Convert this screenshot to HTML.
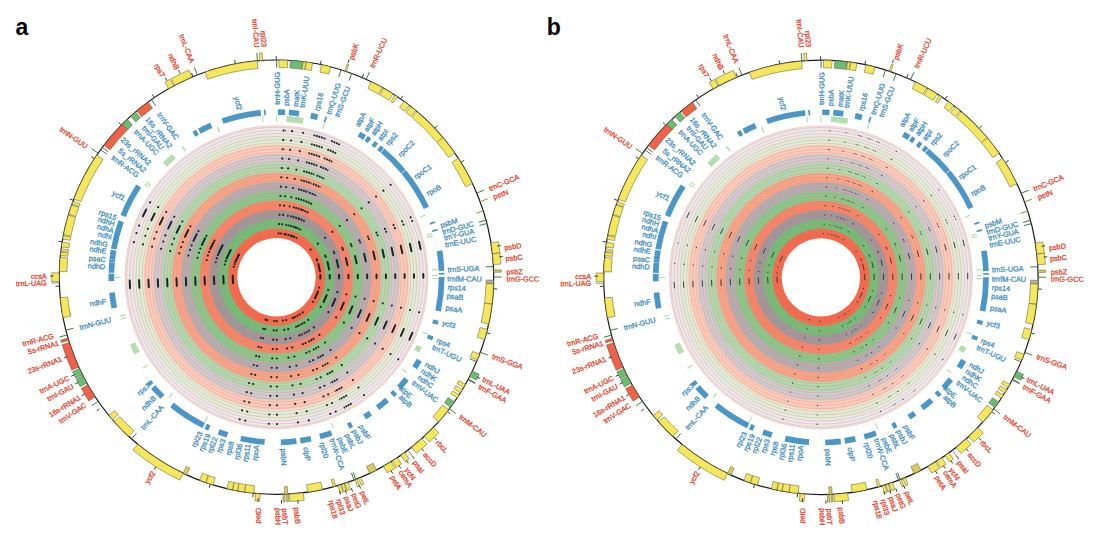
<!DOCTYPE html>
<html><head><meta charset="utf-8"><style>
html,body{margin:0;padding:0;background:#fff;}
body{width:1116px;height:539px;overflow:hidden;}
svg{display:block;}
</style></head><body>
<svg width="1116" height="539" viewBox="0 0 1116 539">
<defs><g id="p">
<circle cx="276.5" cy="277.2" r="151.52" fill="#e9eaee"/>
<circle cx="276.5" cy="277.2" r="142.16" fill="#ddefd9"/>
<circle cx="276.5" cy="277.2" r="132.8" fill="#f9cdbd"/>
<circle cx="276.5" cy="277.2" r="123.44" fill="#cdccd1"/>
<circle cx="276.5" cy="277.2" r="114.08" fill="#acdbb0"/>
<circle cx="276.5" cy="277.2" r="104.72" fill="#f5a68a"/>
<circle cx="276.5" cy="277.2" r="95.36" fill="#b0afb4"/>
<circle cx="276.5" cy="277.2" r="86" fill="#86c98c"/>
<circle cx="276.5" cy="277.2" r="76.64" fill="#f3866a"/>
<circle cx="276.5" cy="277.2" r="67.28" fill="#9a989c"/>
<circle cx="276.5" cy="277.2" r="57.92" fill="#6dbf78"/>
<circle cx="276.5" cy="277.2" r="48.56" fill="#f26a4e"/>
<circle cx="276.5" cy="277.2" r="39.2" fill="#fff"/>
<circle cx="276.5" cy="277.2" r="47" fill="none" stroke="#f07a68" stroke-width="0.6" opacity="0.55"/>
<circle cx="276.5" cy="277.2" r="50.12" fill="none" stroke="#f07a68" stroke-width="0.6" opacity="0.55"/>
<circle cx="276.5" cy="277.2" r="53.24" fill="none" stroke="#f07a68" stroke-width="0.6" opacity="0.55"/>
<circle cx="276.5" cy="277.2" r="56.36" fill="none" stroke="#f07a68" stroke-width="0.6" opacity="0.55"/>
<circle cx="276.5" cy="277.2" r="59.48" fill="none" stroke="#f07a68" stroke-width="0.6" opacity="0.55"/>
<circle cx="276.5" cy="277.2" r="62.6" fill="none" stroke="#f07a68" stroke-width="0.6" opacity="0.55"/>
<circle cx="276.5" cy="277.2" r="65.72" fill="none" stroke="#f07a68" stroke-width="0.6" opacity="0.55"/>
<circle cx="276.5" cy="277.2" r="68.84" fill="none" stroke="#f07a68" stroke-width="0.6" opacity="0.55"/>
<circle cx="276.5" cy="277.2" r="71.96" fill="none" stroke="#f07a68" stroke-width="0.6" opacity="0.55"/>
<circle cx="276.5" cy="277.2" r="75.08" fill="none" stroke="#f07a68" stroke-width="0.6" opacity="0.55"/>
<circle cx="276.5" cy="277.2" r="78.2" fill="none" stroke="#f07a68" stroke-width="0.6" opacity="0.55"/>
<circle cx="276.5" cy="277.2" r="81.32" fill="none" stroke="#f07a68" stroke-width="0.6" opacity="0.55"/>
<circle cx="276.5" cy="277.2" r="84.44" fill="none" stroke="#f07a68" stroke-width="0.6" opacity="0.55"/>
<circle cx="276.5" cy="277.2" r="87.56" fill="none" stroke="#f07a68" stroke-width="0.6" opacity="0.55"/>
<circle cx="276.5" cy="277.2" r="90.68" fill="none" stroke="#f07a68" stroke-width="0.6" opacity="0.55"/>
<circle cx="276.5" cy="277.2" r="93.8" fill="none" stroke="#f07a68" stroke-width="0.6" opacity="0.55"/>
<circle cx="276.5" cy="277.2" r="96.92" fill="none" stroke="#f07a68" stroke-width="0.6" opacity="0.55"/>
<circle cx="276.5" cy="277.2" r="100.04" fill="none" stroke="#f07a68" stroke-width="0.6" opacity="0.55"/>
<circle cx="276.5" cy="277.2" r="103.16" fill="none" stroke="#f07a68" stroke-width="0.6" opacity="0.55"/>
<circle cx="276.5" cy="277.2" r="106.28" fill="none" stroke="#f07a68" stroke-width="0.6" opacity="0.55"/>
<circle cx="276.5" cy="277.2" r="109.4" fill="none" stroke="#f07a68" stroke-width="0.6" opacity="0.55"/>
<circle cx="276.5" cy="277.2" r="112.52" fill="none" stroke="#f07a68" stroke-width="0.6" opacity="0.55"/>
<circle cx="276.5" cy="277.2" r="115.64" fill="none" stroke="#f07a68" stroke-width="0.6" opacity="0.55"/>
<circle cx="276.5" cy="277.2" r="118.76" fill="none" stroke="#f07a68" stroke-width="0.6" opacity="0.55"/>
<circle cx="276.5" cy="277.2" r="121.88" fill="none" stroke="#f07a68" stroke-width="0.6" opacity="0.55"/>
<circle cx="276.5" cy="277.2" r="125" fill="none" stroke="#f07a68" stroke-width="0.6" opacity="0.55"/>
<circle cx="276.5" cy="277.2" r="128.12" fill="none" stroke="#f07a68" stroke-width="0.6" opacity="0.55"/>
<circle cx="276.5" cy="277.2" r="131.24" fill="none" stroke="#f07a68" stroke-width="0.6" opacity="0.55"/>
<circle cx="276.5" cy="277.2" r="134.36" fill="none" stroke="#f07a68" stroke-width="0.6" opacity="0.55"/>
<circle cx="276.5" cy="277.2" r="137.48" fill="none" stroke="#f07a68" stroke-width="0.6" opacity="0.55"/>
<circle cx="276.5" cy="277.2" r="140.6" fill="none" stroke="#f07a68" stroke-width="0.6" opacity="0.55"/>
<circle cx="276.5" cy="277.2" r="143.72" fill="none" stroke="#f07a68" stroke-width="0.6" opacity="0.55"/>
<circle cx="276.5" cy="277.2" r="146.84" fill="none" stroke="#f07a68" stroke-width="0.6" opacity="0.55"/>
<circle cx="276.5" cy="277.2" r="149.96" fill="none" stroke="#f07a68" stroke-width="0.6" opacity="0.55"/>
<circle cx="276.5" cy="277.2" r="151.52" fill="none" stroke="#f08878" stroke-width="0.6" opacity="0.6"/>
<circle cx="276.5" cy="277.2" r="217.2" fill="none" stroke="#1a1a1a" stroke-width="1.2"/>
<path d="M164.86,82.08A224.8,224.8 0 0 1 170.11,79.17L173.71,85.86A217.2,217.2 0 0 0 168.63,88.68Z" fill="#f4e75c" stroke="#5a5630" stroke-width="0.5"/>
<path d="M171.16,78.61A224.8,224.8 0 0 1 189.06,70.1L192.02,77.1A217.2,217.2 0 0 0 174.72,85.32Z" fill="#f4e75c" stroke="#5a5630" stroke-width="0.5"/>
<path d="M205.08,72.08A217.2,217.2 0 0 1 257.13,60.87L257.81,68.44A209.6,209.6 0 0 0 207.58,79.25Z" fill="#f4e75c" stroke="#5a5630" stroke-width="0.5"/>
<path d="M259.29,53.06A224.8,224.8 0 0 1 262.16,52.86L262.64,60.44A217.2,217.2 0 0 0 259.87,60.64Z" fill="#f4e75c" stroke="#5a5630" stroke-width="0.5"/>
<path d="M279.05,60.01A217.2,217.2 0 0 1 287.71,60.29L287.31,67.88A209.6,209.6 0 0 0 278.96,67.61Z" fill="#f4e75c" stroke="#5a5630" stroke-width="0.5"/>
<path d="M290.43,60.45A217.2,217.2 0 0 1 302.91,61.61L301.98,69.15A209.6,209.6 0 0 0 289.94,68.03Z" fill="#6cbd74" stroke="#5a5630" stroke-width="0.5"/>
<path d="M303.11,61.64A217.2,217.2 0 0 1 305.82,61.99L304.79,69.52A209.6,209.6 0 0 0 302.18,69.18Z" fill="#f4e75c" stroke="#5a5630" stroke-width="0.5"/>
<path d="M306.22,62.04A217.2,217.2 0 0 1 312.55,63.01L311.29,70.51A209.6,209.6 0 0 0 305.18,69.57Z" fill="#f4e75c" stroke="#5a5630" stroke-width="0.5"/>
<path d="M321.49,64.71A217.2,217.2 0 0 1 330.57,66.84L328.68,74.2A209.6,209.6 0 0 0 319.92,72.15Z" fill="#f4e75c" stroke="#5a5630" stroke-width="0.5"/>
<path d="M347.19,63.8A224.8,224.8 0 0 1 348.86,64.37L346.42,71.56A217.2,217.2 0 0 0 344.8,71.02Z" fill="#f4e75c" stroke="#5a5630" stroke-width="0.5"/>
<path d="M371.2,81.73A217.2,217.2 0 0 1 382.38,87.56L378.68,94.19A209.6,209.6 0 0 0 367.88,88.57Z" fill="#f4e75c" stroke="#5a5630" stroke-width="0.5"/>
<path d="M383.52,88.2A217.2,217.2 0 0 1 392.94,93.85L388.87,100.27A209.6,209.6 0 0 0 379.78,94.81Z" fill="#f4e75c" stroke="#5a5630" stroke-width="0.5"/>
<path d="M395.01,95.18A217.2,217.2 0 0 1 397.43,96.78L393.2,103.09A209.6,209.6 0 0 0 390.86,101.55Z" fill="#f4e75c" stroke="#5a5630" stroke-width="0.5"/>
<path d="M404.02,101.38A217.2,217.2 0 0 1 409.38,105.39L404.73,111.4A209.6,209.6 0 0 0 399.56,107.53Z" fill="#f4e75c" stroke="#5a5630" stroke-width="0.5"/>
<path d="M410.74,106.45A217.2,217.2 0 0 1 415.84,110.58L410.96,116.41A209.6,209.6 0 0 0 406.04,112.42Z" fill="#f4e75c" stroke="#5a5630" stroke-width="0.5"/>
<path d="M416.9,111.48A217.2,217.2 0 0 1 442.96,137.67L437.13,142.56A209.6,209.6 0 0 0 411.98,117.27Z" fill="#f4e75c" stroke="#5a5630" stroke-width="0.5"/>
<path d="M442.86,137.56A217.2,217.2 0 0 1 454.76,153.11L448.52,157.45A209.6,209.6 0 0 0 437.04,142.45Z" fill="#f4e75c" stroke="#5a5630" stroke-width="0.5"/>
<path d="M458.17,158.16A217.2,217.2 0 0 1 472.44,183.48L465.58,186.76A209.6,209.6 0 0 0 451.81,162.32Z" fill="#f4e75c" stroke="#5a5630" stroke-width="0.5"/>
<path d="M498.48,241.73A224.8,224.8 0 0 1 499.99,252.94L492.43,253.76A217.2,217.2 0 0 0 490.98,242.93Z" fill="#f4e75c" stroke="#5a5630" stroke-width="0.5"/>
<path d="M499.99,252.98A224.8,224.8 0 0 1 500.92,264.09L493.33,264.53A217.2,217.2 0 0 0 492.44,253.8Z" fill="#f4e75c" stroke="#5a5630" stroke-width="0.5"/>
<path d="M501.18,269.87A224.8,224.8 0 0 1 501.24,272.17L493.65,272.34A217.2,217.2 0 0 0 493.58,270.12Z" fill="#d8cc58" stroke="#5a5630" stroke-width="0.5"/>
<path d="M493.68,280.1A217.2,217.2 0 0 1 493.61,283.61L486.01,283.38A209.6,209.6 0 0 0 486.08,280Z" fill="#a8b8a0" stroke="#5a5630" stroke-width="0.5"/>
<path d="M493.6,283.85A217.2,217.2 0 0 1 492.05,303.95L484.5,303.01A209.6,209.6 0 0 0 486,283.62Z" fill="#f4e75c" stroke="#5a5630" stroke-width="0.5"/>
<path d="M492.01,304.24A217.2,217.2 0 0 1 488.57,324.13L481.15,322.48A209.6,209.6 0 0 0 484.47,303.29Z" fill="#f4e75c" stroke="#5a5630" stroke-width="0.5"/>
<path d="M487.35,329.33A217.2,217.2 0 0 1 484.58,339.49L477.3,337.31A209.6,209.6 0 0 0 479.97,327.5Z" fill="#f4e75c" stroke="#5a5630" stroke-width="0.5"/>
<path d="M479.62,354.12A217.2,217.2 0 0 1 477.36,359.86L470.33,356.97A209.6,209.6 0 0 0 472.52,351.43Z" fill="#f4e75c" stroke="#5a5630" stroke-width="0.5"/>
<path d="M479.22,374.37A224.8,224.8 0 0 1 476.41,380.02L469.65,376.54A217.2,217.2 0 0 0 472.36,371.08Z" fill="#6cbd74" stroke="#5a5630" stroke-width="0.5"/>
<path d="M465.46,384.29A217.2,217.2 0 0 1 463.62,387.48L457.08,383.62A209.6,209.6 0 0 0 458.85,380.55Z" fill="#f4e75c" stroke="#5a5630" stroke-width="0.5"/>
<path d="M462.36,389.58A217.2,217.2 0 0 1 460.34,392.87L453.91,388.82A209.6,209.6 0 0 0 455.86,385.65Z" fill="#f4e75c" stroke="#5a5630" stroke-width="0.5"/>
<path d="M459,394.97A217.2,217.2 0 0 1 457.09,397.88L450.77,393.66A209.6,209.6 0 0 0 452.61,390.85Z" fill="#f4e75c" stroke="#5a5630" stroke-width="0.5"/>
<path d="M454.35,401.88A217.2,217.2 0 0 1 450.44,407.28L444.36,402.73A209.6,209.6 0 0 0 448.13,397.52Z" fill="#6cbd74" stroke="#5a5630" stroke-width="0.5"/>
<path d="M448.6,409.71A217.2,217.2 0 0 1 438.63,421.73L432.96,416.67A209.6,209.6 0 0 0 442.58,405.07Z" fill="#f4e75c" stroke="#5a5630" stroke-width="0.5"/>
<path d="M438.88,432.66A224.8,224.8 0 0 1 429.29,442.09L424.13,436.52A217.2,217.2 0 0 0 433.39,427.4Z" fill="#f4e75c" stroke="#5a5630" stroke-width="0.5"/>
<path d="M426.98,444.2A224.8,224.8 0 0 1 416.35,453.2L411.62,447.25A217.2,217.2 0 0 0 421.89,438.56Z" fill="#f4e75c" stroke="#5a5630" stroke-width="0.5"/>
<path d="M409.09,458.73A224.8,224.8 0 0 1 405.04,461.63L400.69,455.39A217.2,217.2 0 0 0 404.61,452.59Z" fill="#f4e75c" stroke="#5a5630" stroke-width="0.5"/>
<path d="M401.59,463.98A224.8,224.8 0 0 1 396.22,467.47L392.17,461.04A217.2,217.2 0 0 0 397.36,457.67Z" fill="#f4e75c" stroke="#5a5630" stroke-width="0.5"/>
<path d="M395.04,468.21A224.8,224.8 0 0 1 387.18,472.87L383.44,466.25A217.2,217.2 0 0 0 391.03,461.75Z" fill="#f4e75c" stroke="#5a5630" stroke-width="0.5"/>
<path d="M376.51,470A217.2,217.2 0 0 1 369.8,473.34L366.53,466.48A209.6,209.6 0 0 0 373.01,463.26Z" fill="#d8cc58" stroke="#5a5630" stroke-width="0.5"/>
<path d="M363.74,484.38A224.8,224.8 0 0 1 361.28,485.4L358.41,478.36A217.2,217.2 0 0 0 360.79,477.38Z" fill="#f4e75c" stroke="#5a5630" stroke-width="0.5"/>
<path d="M359.59,486.08A224.8,224.8 0 0 1 357.53,486.89L354.79,479.8A217.2,217.2 0 0 0 356.78,479.02Z" fill="#f4e75c" stroke="#5a5630" stroke-width="0.5"/>
<path d="M350.56,489.45A224.8,224.8 0 0 1 347.16,490.61L344.77,483.39A217.2,217.2 0 0 0 348.05,482.28Z" fill="#f4e75c" stroke="#5a5630" stroke-width="0.5"/>
<path d="M346.32,490.88A224.8,224.8 0 0 1 343.64,491.74L341.37,484.49A217.2,217.2 0 0 0 343.96,483.66Z" fill="#f4e75c" stroke="#5a5630" stroke-width="0.5"/>
<path d="M342.83,491.99A224.8,224.8 0 0 1 340.1,492.81L337.95,485.53A217.2,217.2 0 0 0 340.59,484.73Z" fill="#f4e75c" stroke="#5a5630" stroke-width="0.5"/>
<path d="M335.68,486.18A217.2,217.2 0 0 1 333.25,486.85L331.27,479.52A209.6,209.6 0 0 0 333.61,478.87Z" fill="#f4e75c" stroke="#5a5630" stroke-width="0.5"/>
<path d="M322.48,489.48A217.2,217.2 0 0 1 307.67,492.15L306.58,484.63A209.6,209.6 0 0 0 320.87,482.05Z" fill="#f4e75c" stroke="#5a5630" stroke-width="0.5"/>
<path d="M304.18,500.29A224.8,224.8 0 0 1 290.01,501.59L289.56,494.01A217.2,217.2 0 0 0 303.25,492.75Z" fill="#f4e75c" stroke="#5a5630" stroke-width="0.5"/>
<path d="M288.69,501.67A224.8,224.8 0 0 1 286.77,501.77L286.42,494.17A217.2,217.2 0 0 0 288.28,494.08Z" fill="#d8cc58" stroke="#5a5630" stroke-width="0.5"/>
<path d="M285.15,501.83A224.8,224.8 0 0 1 283.19,501.9L282.96,494.3A217.2,217.2 0 0 0 284.85,494.24Z" fill="#d8cc58" stroke="#5a5630" stroke-width="0.5"/>
<path d="M287.73,494.11A217.2,217.2 0 0 1 284.68,494.25L284.4,486.65A209.6,209.6 0 0 0 287.34,486.52Z" fill="#d8cc58" stroke="#5a5630" stroke-width="0.5"/>
<path d="M259.7,501.37A224.8,224.8 0 0 1 254.92,500.96L255.65,493.4A217.2,217.2 0 0 0 260.27,493.79Z" fill="#f4e75c" stroke="#5a5630" stroke-width="0.5"/>
<path d="M253.81,493.21A217.2,217.2 0 0 1 244.62,492.05L245.73,484.53A209.6,209.6 0 0 0 254.6,485.65Z" fill="#f4e75c" stroke="#5a5630" stroke-width="0.5"/>
<path d="M244.47,492.03A217.2,217.2 0 0 1 237.74,490.91L239.1,483.44A209.6,209.6 0 0 0 245.59,484.51Z" fill="#f4e75c" stroke="#5a5630" stroke-width="0.5"/>
<path d="M237.43,490.86A217.2,217.2 0 0 1 232.73,489.94L234.26,482.5A209.6,209.6 0 0 0 238.79,483.38Z" fill="#f4e75c" stroke="#5a5630" stroke-width="0.5"/>
<path d="M232.25,489.85A217.2,217.2 0 0 1 226.93,488.67L228.67,481.27A209.6,209.6 0 0 0 233.8,482.4Z" fill="#f4e75c" stroke="#5a5630" stroke-width="0.5"/>
<path d="M213.03,484.92A217.2,217.2 0 0 1 206.09,482.67L208.55,475.48A209.6,209.6 0 0 0 215.25,477.65Z" fill="#f4e75c" stroke="#5a5630" stroke-width="0.5"/>
<path d="M205.63,482.51A217.2,217.2 0 0 1 199.59,480.33L202.28,473.22A209.6,209.6 0 0 0 208.11,475.33Z" fill="#f4e75c" stroke="#5a5630" stroke-width="0.5"/>
<path d="M186.59,474.92A217.2,217.2 0 0 1 183.03,473.26L186.3,466.4A209.6,209.6 0 0 0 189.74,468Z" fill="#d8cc58" stroke="#5a5630" stroke-width="0.5"/>
<path d="M179.78,480.13A224.8,224.8 0 0 1 132.86,450.12L137.71,444.27A217.2,217.2 0 0 0 183.05,473.27Z" fill="#f4e75c" stroke="#5a5630" stroke-width="0.5"/>
<path d="M128.64,436.3A217.2,217.2 0 0 1 114.29,421.64L119.97,416.59A209.6,209.6 0 0 0 133.82,430.74Z" fill="#f4e75c" stroke="#5a5630" stroke-width="0.5"/>
<path d="M112.57,419.69A217.2,217.2 0 0 1 108.91,415.37L114.78,410.53A209.6,209.6 0 0 0 118.31,414.7Z" fill="#f4e75c" stroke="#5a5630" stroke-width="0.5"/>
<path d="M88.82,400.95A224.8,224.8 0 0 1 81.21,388.54L87.81,384.77A217.2,217.2 0 0 0 95.17,396.76Z" fill="#ef6248" stroke="#5a5630" stroke-width="0.5"/>
<path d="M80.17,386.69A224.8,224.8 0 0 1 76.17,379.2L82.95,375.75A217.2,217.2 0 0 0 86.81,382.99Z" fill="#6cbd74" stroke="#5a5630" stroke-width="0.5"/>
<path d="M75.68,378.22A224.8,224.8 0 0 1 72.53,371.71L79.43,368.51A217.2,217.2 0 0 0 82.47,374.81Z" fill="#6cbd74" stroke="#5a5630" stroke-width="0.5"/>
<path d="M71.81,370.13A224.8,224.8 0 0 1 62.08,344.72L69.33,342.43A217.2,217.2 0 0 0 78.73,366.99Z" fill="#ef6248" stroke="#5a5630" stroke-width="0.5"/>
<path d="M61.4,342.54A224.8,224.8 0 0 1 60.7,340.18L68,338.06A217.2,217.2 0 0 0 68.68,340.33Z" fill="#ef6248" stroke="#5a5630" stroke-width="0.5"/>
<path d="M62.97,316.95A217.2,217.2 0 0 1 61.93,310.92L69.44,309.74A209.6,209.6 0 0 0 70.44,315.56Z" fill="#f4e75c" stroke="#5a5630" stroke-width="0.5"/>
<path d="M63.1,317.63A217.2,217.2 0 0 1 60.27,297.69L67.83,296.97A209.6,209.6 0 0 0 70.56,316.21Z" fill="#f4e75c" stroke="#5a5630" stroke-width="0.5"/>
<path d="M51.74,281.65A224.8,224.8 0 0 1 51.74,272.75L59.34,272.9A217.2,217.2 0 0 0 59.34,281.5Z" fill="#f4e75c" stroke="#5a5630" stroke-width="0.5"/>
<path d="M59.37,271.52A217.2,217.2 0 0 1 60.22,257.26L67.78,257.96A209.6,209.6 0 0 0 66.97,271.71Z" fill="#f4e75c" stroke="#5a5630" stroke-width="0.5"/>
<path d="M60.39,255.46A217.2,217.2 0 0 1 60.75,252.19L68.29,253.06A209.6,209.6 0 0 0 67.95,256.22Z" fill="#f4e75c" stroke="#5a5630" stroke-width="0.5"/>
<path d="M60.86,251.23A217.2,217.2 0 0 1 61.15,248.9L68.69,249.89A209.6,209.6 0 0 0 68.4,252.13Z" fill="#f4e75c" stroke="#5a5630" stroke-width="0.5"/>
<path d="M61.43,246.88A217.2,217.2 0 0 1 62.15,242.11L69.65,243.34A209.6,209.6 0 0 0 68.95,247.94Z" fill="#f4e75c" stroke="#5a5630" stroke-width="0.5"/>
<path d="M62.68,239.04A217.2,217.2 0 0 1 63.34,235.51L70.8,236.97A209.6,209.6 0 0 0 70.16,240.37Z" fill="#f4e75c" stroke="#5a5630" stroke-width="0.5"/>
<path d="M63.51,234.62A217.2,217.2 0 0 1 68.39,215.01L75.68,217.18A209.6,209.6 0 0 0 70.97,236.11Z" fill="#f4e75c" stroke="#5a5630" stroke-width="0.5"/>
<path d="M68.6,214.32A217.2,217.2 0 0 1 71.68,204.92L78.85,207.44A209.6,209.6 0 0 0 75.88,216.52Z" fill="#f4e75c" stroke="#5a5630" stroke-width="0.5"/>
<path d="M71.99,204.05A217.2,217.2 0 0 1 72.96,201.39L80.08,204.05A209.6,209.6 0 0 0 79.15,206.61Z" fill="#f4e75c" stroke="#5a5630" stroke-width="0.5"/>
<path d="M73.86,199.02A217.2,217.2 0 0 1 96.86,155.11L103.15,159.39A209.6,209.6 0 0 0 80.95,201.76Z" fill="#f4e75c" stroke="#5a5630" stroke-width="0.5"/>
<path d="M103.96,145.27A217.2,217.2 0 0 1 123.1,123.44L128.46,128.82A209.6,209.6 0 0 0 110,149.89Z" fill="#ef6248" stroke="#5a5630" stroke-width="0.5"/>
<path d="M122.4,124.14A217.2,217.2 0 0 1 127.3,119.36L132.52,124.88A209.6,209.6 0 0 0 127.79,129.49Z" fill="#6cbd74" stroke="#5a5630" stroke-width="0.5"/>
<path d="M130.63,116.27A217.2,217.2 0 0 1 135.52,111.97L140.46,117.75A209.6,209.6 0 0 0 135.73,121.9Z" fill="#6cbd74" stroke="#5a5630" stroke-width="0.5"/>
<path d="M136.8,110.89A217.2,217.2 0 0 1 148.02,102.07L152.52,108.2A209.6,209.6 0 0 0 141.68,116.71Z" fill="#ef6248" stroke="#5a5630" stroke-width="0.5"/>
<line x1="197.42" y1="74.91" x2="194.51" y2="67.46" stroke="#3f7a4a" stroke-width="1"/>
<line x1="257.51" y1="60.83" x2="256.81" y2="52.86" stroke="#3f7a4a" stroke-width="1"/>
<line x1="276.7" y1="67.6" x2="276.7" y2="60" stroke="#3f7a4a" stroke-width="1"/>
<line x1="338.74" y1="77.05" x2="341" y2="69.8" stroke="#3f7a4a" stroke-width="1"/>
<line x1="349.07" y1="80.57" x2="351.7" y2="73.44" stroke="#3f7a4a" stroke-width="1"/>
<line x1="366.17" y1="79.37" x2="369.47" y2="72.09" stroke="#3f7a4a" stroke-width="1"/>
<line x1="476.76" y1="193.11" x2="484.14" y2="190.02" stroke="#3f7a4a" stroke-width="1"/>
<line x1="480.14" y1="201.66" x2="487.64" y2="198.88" stroke="#9a9040" stroke-width="1"/>
<line x1="476.11" y1="213.25" x2="483.34" y2="210.93" stroke="#9a9040" stroke-width="1"/>
<line x1="478.74" y1="222.16" x2="486.08" y2="220.16" stroke="#3f7a4a" stroke-width="1"/>
<line x1="479.59" y1="225.37" x2="486.95" y2="223.49" stroke="#3f7a4a" stroke-width="1"/>
<line x1="485.84" y1="266.86" x2="493.44" y2="266.48" stroke="#3f7a4a" stroke-width="1"/>
<line x1="493.7" y1="277" x2="501.7" y2="277" stroke="#3f7a4a" stroke-width="1"/>
<line x1="480.31" y1="352.27" x2="487.82" y2="355.04" stroke="#3f7a4a" stroke-width="1"/>
<line x1="469.62" y1="358.68" x2="476.62" y2="361.63" stroke="#3f7a4a" stroke-width="1"/>
<line x1="468.32" y1="379.09" x2="475.38" y2="382.84" stroke="#3f7a4a" stroke-width="1"/>
<line x1="467.97" y1="379.74" x2="475.03" y2="383.51" stroke="#3f7a4a" stroke-width="1"/>
<line x1="449.37" y1="408.7" x2="455.73" y2="413.55" stroke="#3f7a4a" stroke-width="1"/>
<line x1="407.86" y1="450.18" x2="412.7" y2="456.55" stroke="#9a9040" stroke-width="1"/>
<line x1="351.44" y1="472.95" x2="354.16" y2="480.04" stroke="#3f7a4a" stroke-width="1"/>
<line x1="353.06" y1="472.32" x2="355.83" y2="479.39" stroke="#3f7a4a" stroke-width="1"/>
<line x1="136.51" y1="433.2" x2="131.44" y2="438.86" stroke="#3f7a4a" stroke-width="1"/>
<line x1="98.17" y1="401.19" x2="91.6" y2="405.76" stroke="#3f7a4a" stroke-width="1"/>
<line x1="67.11" y1="334.91" x2="59.39" y2="337.04" stroke="#3f7a4a" stroke-width="1"/>
<line x1="73.23" y1="328.31" x2="65.86" y2="330.16" stroke="#3f7a4a" stroke-width="1"/>
<line x1="59.37" y1="282.89" x2="51.38" y2="283.09" stroke="#8aa090" stroke-width="1"/>
<line x1="98.17" y1="153.21" x2="91.6" y2="148.64" stroke="#3f7a4a" stroke-width="1"/>
<line x1="106.79" y1="154.2" x2="100.63" y2="149.74" stroke="#3f7a4a" stroke-width="1"/>
<line x1="108.39" y1="152.01" x2="102.3" y2="147.48" stroke="#c8483a" stroke-width="1"/>
<line x1="155.74" y1="105.88" x2="151.36" y2="99.67" stroke="#3f7a4a" stroke-width="1"/>
<line x1="166.88" y1="80.57" x2="165.22" y2="77.6" stroke="#222" stroke-width="0.9"/>
<line x1="180.07" y1="73.23" x2="178.62" y2="70.15" stroke="#222" stroke-width="0.9"/>
<line x1="192.91" y1="76.19" x2="191.6" y2="73.05" stroke="#222" stroke-width="0.9"/>
<line x1="235.28" y1="63.44" x2="234.63" y2="60.1" stroke="#222" stroke-width="0.9"/>
<line x1="276.2" y1="59.5" x2="276.2" y2="56.1" stroke="#222" stroke-width="0.9"/>
<line x1="320.49" y1="63.99" x2="321.18" y2="60.66" stroke="#222" stroke-width="0.9"/>
<line x1="348.03" y1="62.71" x2="349.11" y2="59.48" stroke="#222" stroke-width="0.9"/>
<line x1="362.36" y1="77.15" x2="363.7" y2="74.02" stroke="#222" stroke-width="0.9"/>
<line x1="400.98" y1="98.6" x2="402.92" y2="95.81" stroke="#222" stroke-width="0.9"/>
<line x1="434.97" y1="127.94" x2="437.45" y2="125.61" stroke="#222" stroke-width="0.9"/>
<line x1="461.29" y1="162.12" x2="464.18" y2="160.32" stroke="#222" stroke-width="0.9"/>
<line x1="497.22" y1="246.05" x2="500.58" y2="245.58" stroke="#222" stroke-width="0.9"/>
<line x1="499.41" y1="256.86" x2="502.79" y2="256.55" stroke="#222" stroke-width="0.9"/>
<line x1="493.89" y1="288.84" x2="497.28" y2="289.03" stroke="#222" stroke-width="0.9"/>
<line x1="486.96" y1="332.86" x2="490.25" y2="333.73" stroke="#222" stroke-width="0.9"/>
<line x1="476.99" y1="377" x2="480.03" y2="378.51" stroke="#222" stroke-width="0.9"/>
<line x1="447.7" y1="411.68" x2="450.37" y2="413.78" stroke="#222" stroke-width="0.9"/>
<line x1="434.44" y1="437.72" x2="436.82" y2="440.14" stroke="#222" stroke-width="0.9"/>
<line x1="421.84" y1="448.63" x2="424.03" y2="451.22" stroke="#222" stroke-width="0.9"/>
<line x1="412.31" y1="456.07" x2="414.37" y2="458.77" stroke="#222" stroke-width="0.9"/>
<line x1="406.46" y1="460.53" x2="408.43" y2="463.31" stroke="#222" stroke-width="0.9"/>
<line x1="399.02" y1="465.49" x2="400.87" y2="468.34" stroke="#222" stroke-width="0.9"/>
<line x1="391.08" y1="470.75" x2="392.82" y2="473.68" stroke="#222" stroke-width="0.9"/>
<line x1="154.08" y1="97.18" x2="152.16" y2="94.37" stroke="#222" stroke-width="0.9"/>
<line x1="121.09" y1="124.75" x2="118.66" y2="122.37" stroke="#222" stroke-width="0.9"/>
<line x1="94.04" y1="158.45" x2="91.19" y2="156.59" stroke="#222" stroke-width="0.9"/>
<line x1="72.89" y1="200.14" x2="69.71" y2="198.94" stroke="#222" stroke-width="0.9"/>
<line x1="61.7" y1="241.8" x2="58.34" y2="241.25" stroke="#222" stroke-width="0.9"/>
<line x1="58.98" y1="286.11" x2="55.59" y2="286.25" stroke="#222" stroke-width="0.9"/>
<line x1="67.28" y1="356.66" x2="64.1" y2="357.87" stroke="#222" stroke-width="0.9"/>
<line x1="74.32" y1="374.72" x2="71.26" y2="376.2" stroke="#222" stroke-width="0.9"/>
<line x1="78.19" y1="382.36" x2="75.19" y2="383.95" stroke="#222" stroke-width="0.9"/>
<line x1="84.64" y1="394.06" x2="81.73" y2="395.83" stroke="#222" stroke-width="0.9"/>
<line x1="99.44" y1="408.93" x2="96.72" y2="410.96" stroke="#222" stroke-width="0.9"/>
<line x1="155.97" y1="466.78" x2="154.14" y2="469.65" stroke="#222" stroke-width="0.9"/>
<line x1="210.18" y1="484.55" x2="209.14" y2="487.79" stroke="#222" stroke-width="0.9"/>
<line x1="253.19" y1="493.65" x2="252.82" y2="497.03" stroke="#222" stroke-width="0.9"/>
<line x1="281.46" y1="500.1" x2="281.54" y2="503.5" stroke="#222" stroke-width="0.9"/>
<line x1="258.15" y1="498.21" x2="257.87" y2="501.59" stroke="#222" stroke-width="0.9"/>
<line x1="297.83" y1="500.21" x2="298.15" y2="503.59" stroke="#222" stroke-width="0.9"/>
<line x1="339.49" y1="491.27" x2="340.45" y2="494.53" stroke="#222" stroke-width="0.9"/>
<line x1="345.45" y1="490.29" x2="346.49" y2="493.52" stroke="#222" stroke-width="0.9"/>
<line x1="351.4" y1="488.3" x2="352.53" y2="491.51" stroke="#222" stroke-width="0.9"/>
<line x1="359.33" y1="485.33" x2="360.59" y2="488.49" stroke="#222" stroke-width="0.9"/>
<line x1="53.5" y1="276.01" x2="50.1" y2="275.99" stroke="#222" stroke-width="0.9"/>
<path d="M192.46,131.73A168,168 0 0 1 196.04,129.72L198.77,134.72A162.3,162.3 0 0 0 195.31,136.67Z" fill="#4a96c6"/>
<path d="M198.05,128.64A168,168 0 0 1 210.14,122.86L212.39,128.1A162.3,162.3 0 0 0 200.71,133.68Z" fill="#4a96c6"/>
<path d="M221.57,118.43A168,168 0 0 1 260.52,109.96L261.07,115.64A162.3,162.3 0 0 0 223.43,123.82Z" fill="#4a96c6"/>
<path d="M263.74,109.69A168,168 0 0 1 265.49,109.56L265.87,115.25A162.3,162.3 0 0 0 264.17,115.37Z" fill="#4a96c6"/>
<path d="M277.88,109.21A168,168 0 0 1 285.26,109.43L284.96,115.12A162.3,162.3 0 0 0 277.84,114.91Z" fill="#4a96c6"/>
<path d="M289.09,109.67A168,168 0 0 1 299.35,110.76L298.58,116.41A162.3,162.3 0 0 0 288.67,115.36Z" fill="#4a96c6"/>
<path d="M311.33,112.85A168,168 0 0 1 318.24,114.47L316.82,119.99A162.3,162.3 0 0 0 310.15,118.43Z" fill="#4a96c6"/>
<path d="M325.4,116.47A168,168 0 0 1 327.08,116.99L325.36,122.43A162.3,162.3 0 0 0 323.74,121.93Z" fill="#4a96c6"/>
<path d="M360.4,131.65A168,168 0 0 1 366.05,135.06L363.01,139.88A162.3,162.3 0 0 0 357.56,136.59Z" fill="#4a96c6"/>
<path d="M367.71,136.12A168,168 0 0 1 371.13,138.39L367.92,143.1A162.3,162.3 0 0 0 364.62,140.9Z" fill="#4a96c6"/>
<path d="M374.79,140.96A168,168 0 0 1 378.09,143.4L374.65,147.94A162.3,162.3 0 0 0 371.46,145.58Z" fill="#4a96c6"/>
<path d="M380.7,145.42A168,168 0 0 1 383.89,148.01L380.25,152.39A162.3,162.3 0 0 0 377.17,149.89Z" fill="#4a96c6"/>
<path d="M384.49,148.5A168,168 0 0 1 405.48,169.55L401.1,173.2A162.3,162.3 0 0 0 380.82,152.87Z" fill="#4a96c6"/>
<path d="M405.85,170A168,168 0 0 1 429.01,206.73L423.83,209.12A162.3,162.3 0 0 0 401.46,173.64Z" fill="#4a96c6"/>
<path d="M434.9,221.21A168,168 0 0 1 435.47,222.87L430.08,224.72A162.3,162.3 0 0 0 429.52,223.11Z" fill="#4a96c6"/>
<path d="M437.39,228.84A168,168 0 0 1 437.89,230.53L432.41,232.11A162.3,162.3 0 0 0 431.93,230.48Z" fill="#4a96c6"/>
<path d="M442.32,250.23A168,168 0 0 1 444.38,270.86L438.68,271.07A162.3,162.3 0 0 0 436.69,251.14Z" fill="#4a96c6"/>
<path d="M444.44,272.81A168,168 0 0 1 444.48,274.57L438.78,274.66A162.3,162.3 0 0 0 438.74,272.96Z" fill="#4a96c6"/>
<path d="M444.5,277.1A168,168 0 0 1 440.95,311.56L435.37,310.4A162.3,162.3 0 0 0 438.8,277.11Z" fill="#4a96c6"/>
<path d="M438.73,320.86A168,168 0 0 1 437.61,324.81L432.15,323.2A162.3,162.3 0 0 0 433.22,319.38Z" fill="#4a96c6"/>
<path d="M433.66,336.58A168,168 0 0 1 432.16,340.4L426.88,338.26A162.3,162.3 0 0 0 428.32,334.57Z" fill="#4a96c6"/>
<path d="M421.81,361.52A168,168 0 0 1 417.11,369.15L412.33,366.03A162.3,162.3 0 0 0 416.88,358.66Z" fill="#4a96c6"/>
<path d="M408.71,380.85A168,168 0 0 1 401.31,389.65L397.08,385.84A162.3,162.3 0 0 0 404.23,377.34Z" fill="#4a96c6"/>
<path d="M397.18,394.08A168,168 0 0 1 394.19,397.08L390.2,393.02A162.3,162.3 0 0 0 393.08,390.12Z" fill="#4a96c6"/>
<path d="M388.98,401.99A168,168 0 0 1 379.34,410.05L375.85,405.54A162.3,162.3 0 0 0 385.16,397.76Z" fill="#4a96c6"/>
<path d="M371.99,415.42A168,168 0 0 1 366.1,419.31L363.06,414.49A162.3,162.3 0 0 0 368.75,410.73Z" fill="#4a96c6"/>
<path d="M353.05,426.75A168,168 0 0 1 349.37,428.57L346.9,423.44A162.3,162.3 0 0 0 350.45,421.67Z" fill="#4a96c6"/>
<path d="M332.47,435.6A168,168 0 0 1 320.61,439.3L319.12,433.8A162.3,162.3 0 0 0 330.57,430.23Z" fill="#4a96c6"/>
<path d="M311.58,441.5A168,168 0 0 1 300.67,443.45L299.85,437.81A162.3,162.3 0 0 0 310.39,435.92Z" fill="#4a96c6"/>
<path d="M296.74,443.98A168,168 0 0 1 280.92,445.14L280.77,439.44A162.3,162.3 0 0 0 296.06,438.32Z" fill="#4a96c6"/>
<path d="M264.45,444.77A168,168 0 0 1 240.16,441.22L241.4,435.66A162.3,162.3 0 0 0 264.86,439.08Z" fill="#4a96c6"/>
<path d="M226.58,437.61A168,168 0 0 1 217.63,434.55L219.63,429.21A162.3,162.3 0 0 0 228.28,432.17Z" fill="#4a96c6"/>
<path d="M208.17,430.68A168,168 0 0 1 204.44,428.96L206.89,423.81A162.3,162.3 0 0 0 210.49,425.47Z" fill="#4a96c6"/>
<path d="M202.51,428.03A168,168 0 0 1 170.17,407.27L173.78,402.86A162.3,162.3 0 0 0 205.02,422.91Z" fill="#4a96c6"/>
<path d="M149.05,386.65A168,168 0 0 1 146.41,383.51L150.83,379.9A162.3,162.3 0 0 0 153.37,382.94Z" fill="#4a96c6"/>
<path d="M160.56,398.78A168,168 0 0 1 151.03,388.92L155.29,385.13A162.3,162.3 0 0 0 164.49,394.65Z" fill="#4a96c6"/>
<path d="M120.48,214.89A168,168 0 0 1 136.45,184.41L141.2,187.56A162.3,162.3 0 0 0 125.78,217Z" fill="#4a96c6"/>
<path d="M110.96,248.56A168,168 0 0 1 118.46,220.22L123.82,222.16A162.3,162.3 0 0 0 116.58,249.53Z" fill="#4a96c6"/>
<path d="M110.23,253.18A168,168 0 0 1 110.76,249.72L116.39,250.65A162.3,162.3 0 0 0 115.87,253.99Z" fill="#4a96c6"/>
<path d="M109.92,255.42A168,168 0 0 1 110.29,252.77L115.93,253.6A162.3,162.3 0 0 0 115.57,256.16Z" fill="#4a96c6"/>
<path d="M109.44,259.42A168,168 0 0 1 109.93,255.34L115.58,256.09A162.3,162.3 0 0 0 115.11,260.02Z" fill="#4a96c6"/>
<path d="M109.19,262.02A168,168 0 0 1 109.43,259.57L115.1,260.17A162.3,162.3 0 0 0 114.86,262.53Z" fill="#4a96c6"/>
<path d="M108.56,272.64A168,168 0 0 1 109.16,262.31L114.84,262.82A162.3,162.3 0 0 0 114.26,272.79Z" fill="#4a96c6"/>
<path d="M108.55,281.2A168,168 0 0 1 108.54,273.62L114.24,273.74A162.3,162.3 0 0 0 114.25,281.07Z" fill="#4a96c6"/>
<path d="M111.45,308.55A168,168 0 0 1 109.21,292.65L114.89,292.13A162.3,162.3 0 0 0 117.05,307.49Z" fill="#4a96c6"/>
<path d="M216.94,127.08A161.5,161.5 0 0 1 218.1,126.63L220.23,132.13A155.6,155.6 0 0 0 219.12,132.57Z" fill="#b6ddb0"/>
<path d="M261.86,116.36A161.5,161.5 0 0 1 263.1,116.26L263.59,122.14A155.6,155.6 0 0 0 262.4,122.24Z" fill="#b6ddb0"/>
<path d="M275.98,115.7A161.5,161.5 0 0 1 277.22,115.7L277.2,121.6A155.6,155.6 0 0 0 276,121.6Z" fill="#b6ddb0"/>
<path d="M286.71,116.02A161.5,161.5 0 0 1 303.73,118.01L302.73,123.83A155.6,155.6 0 0 0 286.33,121.91Z" fill="#b6ddb0"/>
<path d="M324,122.84A161.5,161.5 0 0 1 325.19,123.21L323.41,128.84A155.6,155.6 0 0 0 322.27,128.48Z" fill="#b6ddb0"/>
<path d="M181.41,146.66A161.5,161.5 0 0 1 182.41,145.94L185.85,150.73A155.6,155.6 0 0 0 184.88,151.43Z" fill="#b6ddb0"/>
<path d="M162.78,162.53A161.5,161.5 0 0 1 172.07,154.01L175.88,158.51A155.6,155.6 0 0 0 166.93,166.72Z" fill="#b6ddb0"/>
<path d="M181.76,146.41A161.5,161.5 0 0 1 182.77,145.68L186.19,150.49A155.6,155.6 0 0 0 185.22,151.19Z" fill="#b6ddb0"/>
<path d="M145.73,182.43A161.5,161.5 0 0 1 146.46,181.43L151.21,184.93A155.6,155.6 0 0 0 150.51,185.89Z" fill="#b6ddb0"/>
<path d="M144.19,184.59A161.5,161.5 0 0 1 144.91,183.58L149.71,187A155.6,155.6 0 0 0 149.02,187.97Z" fill="#b6ddb0"/>
<path d="M216.67,127.19A161.5,161.5 0 0 1 217.82,126.74L219.97,132.23A155.6,155.6 0 0 0 218.86,132.67Z" fill="#b6ddb0"/>
<path d="M425.3,214.42A161.5,161.5 0 0 1 425.78,215.56L420.32,217.82A155.6,155.6 0 0 0 419.86,216.71Z" fill="#b6ddb0"/>
<path d="M431.89,233.2A161.5,161.5 0 0 1 432.22,234.4L426.54,235.96A155.6,155.6 0 0 0 426.21,234.81Z" fill="#b6ddb0"/>
<path d="M432.55,235.59A161.5,161.5 0 0 1 432.86,236.79L427.15,238.26A155.6,155.6 0 0 0 426.85,237.11Z" fill="#b6ddb0"/>
<path d="M437.78,268.74A161.5,161.5 0 0 1 437.84,269.98L431.94,270.25A155.6,155.6 0 0 0 431.89,269.05Z" fill="#b6ddb0"/>
<path d="M437.98,274.85A161.5,161.5 0 0 1 438,276.09L432.1,276.13A155.6,155.6 0 0 0 432.08,274.93Z" fill="#b6ddb0"/>
<path d="M438,277.9A161.5,161.5 0 0 1 437.99,279.14L432.09,279.07A155.6,155.6 0 0 0 432.1,277.88Z" fill="#b6ddb0"/>
<path d="M427.88,333.47A161.5,161.5 0 0 1 427.44,334.64L421.93,332.54A155.6,155.6 0 0 0 422.35,331.42Z" fill="#b6ddb0"/>
<path d="M421.92,347.45A161.5,161.5 0 0 1 419.24,352.74L414.03,349.98A155.6,155.6 0 0 0 416.61,344.88Z" fill="#b6ddb0"/>
<path d="M407.19,372.08A161.5,161.5 0 0 1 406.46,373.08L401.71,369.58A155.6,155.6 0 0 0 402.41,368.62Z" fill="#b6ddb0"/>
<path d="M333.84,428.18A161.5,161.5 0 0 1 332.68,428.61L330.62,423.08A155.6,155.6 0 0 0 331.74,422.66Z" fill="#b6ddb0"/>
<path d="M119.94,316.83A161.5,161.5 0 0 1 119.64,315.62L125.37,314.22A155.6,155.6 0 0 0 125.66,315.38Z" fill="#b6ddb0"/>
<path d="M120.68,319.67A161.5,161.5 0 0 1 120.36,318.47L126.07,316.96A155.6,155.6 0 0 0 126.38,318.11Z" fill="#b6ddb0"/>
<path d="M134.63,354.38A161.5,161.5 0 0 1 129.78,344.7L135.14,342.23A155.6,155.6 0 0 0 139.82,351.56Z" fill="#b6ddb0"/>
<path d="M143.41,368.68A161.5,161.5 0 0 1 142.71,367.65L147.6,364.35A155.6,155.6 0 0 0 148.27,365.34Z" fill="#b6ddb0"/>
<path d="M169.19,397.89A161.5,161.5 0 0 1 168.27,397.06L172.22,392.69A155.6,155.6 0 0 0 173.11,393.48Z" fill="#b6ddb0"/>
<path d="M205.36,422.19A161.5,161.5 0 0 1 204.25,421.64L206.89,416.36A155.6,155.6 0 0 0 207.96,416.89Z" fill="#b6ddb0"/>
<path d="M115,278.12A161.5,161.5 0 0 1 115,276.88L120.9,276.89A155.6,155.6 0 0 0 120.9,278.09Z" fill="#b6ddb0"/>
<g font-family="Liberation Sans, sans-serif" font-size="7.3">
<text x="159.6" y="70.4" transform="rotate(420.52 159.6 70.4)" fill="#e8412a" stroke="#e8412a" stroke-width="0.28" text-anchor="middle" dominant-baseline="central">rps7</text>
<text x="173.75" y="61.55" transform="rotate(424.52 173.75 61.55)" fill="#e8412a" stroke="#e8412a" stroke-width="0.28" text-anchor="middle" dominant-baseline="central">ndhB</text>
<text x="186.75" y="48.6" transform="rotate(428.56 186.75 48.6)" fill="#e8412a" stroke="#e8412a" stroke-width="0.28" text-anchor="middle" dominant-baseline="central">trnL-CAA</text>
<text x="255.75" y="33.3" transform="rotate(445.14 255.75 33.3)" fill="#e8412a" stroke="#e8412a" stroke-width="0.28" text-anchor="middle" dominant-baseline="central">trnI-CAU</text>
<text x="263.55" y="38.9" transform="rotate(446.89 263.55 38.9)" fill="#e8412a" stroke="#e8412a" stroke-width="0.28" text-anchor="middle" dominant-baseline="central">rpl23</text>
<text x="353.85" y="51.55" transform="rotate(-71.08 353.85 51.55)" fill="#e8412a" stroke="#e8412a" stroke-width="0.28" text-anchor="middle" dominant-baseline="central">psbK</text>
<text x="378.5" y="53" transform="rotate(-65.54 378.5 53)" fill="#e8412a" stroke="#e8412a" stroke-width="0.28" text-anchor="middle" dominant-baseline="central">trnR-UCU</text>
<text x="504" y="182.75" transform="rotate(-22.55 504 182.75)" fill="#e8412a" stroke="#e8412a" stroke-width="0.28" text-anchor="middle" dominant-baseline="central">trnC-GCA</text>
<text x="500.75" y="194.5" transform="rotate(-20.24 500.75 194.5)" fill="#e8412a" stroke="#e8412a" stroke-width="0.28" text-anchor="middle" dominant-baseline="central">petN</text>
<text x="512.95" y="246.7" transform="rotate(-7.35 512.95 246.7)" fill="#e8412a" stroke="#e8412a" stroke-width="0.28" text-anchor="middle" dominant-baseline="central">psbD</text>
<text x="514.05" y="257.85" transform="rotate(-4.66 514.05 257.85)" fill="#e8412a" stroke="#e8412a" stroke-width="0.28" text-anchor="middle" dominant-baseline="central">psbC</text>
<text x="514.6" y="271.75" transform="rotate(-1.31 514.6 271.75)" fill="#e8412a" stroke="#e8412a" stroke-width="0.28" text-anchor="middle" dominant-baseline="central">psbZ</text>
<text x="522.9" y="279" transform="rotate(0.42 522.9 279)" fill="#e8412a" stroke="#e8412a" stroke-width="0.28" text-anchor="middle" dominant-baseline="central">trnG-GCC</text>
<text x="507.45" y="361.7" transform="rotate(20.1 507.45 361.7)" fill="#e8412a" stroke="#e8412a" stroke-width="0.28" text-anchor="middle" dominant-baseline="central">trnS-GGA</text>
<text x="496.25" y="385.75" transform="rotate(26.29 496.25 385.75)" fill="#e8412a" stroke="#e8412a" stroke-width="0.28" text-anchor="middle" dominant-baseline="central">trnL-UAA</text>
<text x="492.4" y="393.5" transform="rotate(28.31 492.4 393.5)" fill="#e8412a" stroke="#e8412a" stroke-width="0.28" text-anchor="middle" dominant-baseline="central">trnF-GAA</text>
<text x="472.9" y="425.85" transform="rotate(37.12 472.9 425.85)" fill="#e8412a" stroke="#e8412a" stroke-width="0.28" text-anchor="middle" dominant-baseline="central">trnM-CAU</text>
<text x="442" y="446.5" transform="rotate(45.65 442 446.5)" fill="#e8412a" stroke="#e8412a" stroke-width="0.28" text-anchor="middle" dominant-baseline="central">rbcL</text>
<text x="430" y="459.65" transform="rotate(49.93 430 459.65)" fill="#e8412a" stroke="#e8412a" stroke-width="0.28" text-anchor="middle" dominant-baseline="central">accD</text>
<text x="418.6" y="466.85" transform="rotate(53.16 418.6 466.85)" fill="#e8412a" stroke="#e8412a" stroke-width="0.28" text-anchor="middle" dominant-baseline="central">psaI</text>
<text x="410.25" y="474" transform="rotate(55.8 410.25 474)" fill="#e8412a" stroke="#e8412a" stroke-width="0.28" text-anchor="middle" dominant-baseline="central">ycf4</text>
<text x="405.45" y="478.9" transform="rotate(57.41 405.45 478.9)" fill="#e8412a" stroke="#e8412a" stroke-width="0.28" text-anchor="middle" dominant-baseline="central">cemA</text>
<text x="395.95" y="482.45" transform="rotate(59.8 395.95 482.45)" fill="#e8412a" stroke="#e8412a" stroke-width="0.28" text-anchor="middle" dominant-baseline="central">petA</text>
<text x="365" y="497.85" transform="rotate(68.14 365 497.85)" fill="#e8412a" stroke="#e8412a" stroke-width="0.28" text-anchor="middle" dominant-baseline="central">petL</text>
<text x="356.4" y="500.9" transform="rotate(70.34 356.4 500.9)" fill="#e8412a" stroke="#e8412a" stroke-width="0.28" text-anchor="middle" dominant-baseline="central">petG</text>
<text x="348.8" y="503.9" transform="rotate(72.31 348.8 503.9)" fill="#e8412a" stroke="#e8412a" stroke-width="0.28" text-anchor="middle" dominant-baseline="central">psaJ</text>
<text x="340.75" y="506.9" transform="rotate(74.37 340.75 506.9)" fill="#e8412a" stroke="#e8412a" stroke-width="0.28" text-anchor="middle" dominant-baseline="central">rpl33</text>
<text x="333.1" y="509.4" transform="rotate(76.3 333.1 509.4)" fill="#e8412a" stroke="#e8412a" stroke-width="0.28" text-anchor="middle" dominant-baseline="central">rps18</text>
<text x="297.15" y="515.5" transform="rotate(85.05 297.15 515.5)" fill="#e8412a" stroke="#e8412a" stroke-width="0.28" text-anchor="middle" dominant-baseline="central">psbB</text>
<text x="285.05" y="516.5" transform="rotate(87.95 285.05 516.5)" fill="#e8412a" stroke="#e8412a" stroke-width="0.28" text-anchor="middle" dominant-baseline="central">psbT</text>
<text x="277.95" y="516.5" transform="rotate(89.65 277.95 516.5)" fill="#e8412a" stroke="#e8412a" stroke-width="0.28" text-anchor="middle" dominant-baseline="central">psbH</text>
<text x="258" y="515.5" transform="rotate(274.44 258 515.5)" fill="#e8412a" stroke="#e8412a" stroke-width="0.28" text-anchor="middle" dominant-baseline="central">petD</text>
<text x="149.95" y="477.3" transform="rotate(302.31 149.95 477.3)" fill="#e8412a" stroke="#e8412a" stroke-width="0.28" text-anchor="middle" dominant-baseline="central">ycf2</text>
<text x="72.6" y="413.15" transform="rotate(326.31 72.6 413.15)" fill="#e8412a" stroke="#e8412a" stroke-width="0.28" text-anchor="middle" dominant-baseline="central">trnV-GAC</text>
<text x="64.8" y="406.1" transform="rotate(328.66 64.8 406.1)" fill="#e8412a" stroke="#e8412a" stroke-width="0.28" text-anchor="middle" dominant-baseline="central">16s-rRNA1</text>
<text x="60.25" y="392.5" transform="rotate(331.93 60.25 392.5)" fill="#e8412a" stroke="#e8412a" stroke-width="0.28" text-anchor="middle" dominant-baseline="central">trnI-GAU</text>
<text x="54.45" y="384.6" transform="rotate(334.19 54.45 384.6)" fill="#e8412a" stroke="#e8412a" stroke-width="0.28" text-anchor="middle" dominant-baseline="central">trnA-UGC</text>
<text x="44.7" y="365.2" transform="rotate(339.21 44.7 365.2)" fill="#e8412a" stroke="#e8412a" stroke-width="0.28" text-anchor="middle" dominant-baseline="central">23s-rRNA1</text>
<text x="43.4" y="347.5" transform="rotate(343.22 43.4 347.5)" fill="#e8412a" stroke="#e8412a" stroke-width="0.28" text-anchor="middle" dominant-baseline="central">5s-rRNA1</text>
<text x="38.2" y="339.9" transform="rotate(345.26 38.2 339.9)" fill="#e8412a" stroke="#e8412a" stroke-width="0.28" text-anchor="middle" dominant-baseline="central">trnR-ACG</text>
<text x="38.85" y="276.25" transform="rotate(360.23 38.85 276.25)" fill="#e8412a" stroke="#e8412a" stroke-width="0.28" text-anchor="middle" dominant-baseline="central">ccsA</text>
<text x="31.35" y="283.3" transform="rotate(358.57 31.35 283.3)" fill="#e8412a" stroke="#e8412a" stroke-width="0.28" text-anchor="middle" dominant-baseline="central">trnL-UAG</text>
<text x="73.75" y="137.8" transform="rotate(394.51 73.75 137.8)" fill="#e8412a" stroke="#e8412a" stroke-width="0.28" text-anchor="middle" dominant-baseline="central">trnN-GUU</text>
<text x="167.95" y="126.1" transform="rotate(414.31 167.95 126.1)" fill="#3d8cc0" stroke="#3d8cc0" stroke-width="0.28" text-anchor="middle" dominant-baseline="central">trnV-GAC</text>
<text x="158.85" y="132.6" transform="rotate(410.87 158.85 132.6)" fill="#3d8cc0" stroke="#3d8cc0" stroke-width="0.28" text-anchor="middle" dominant-baseline="central">16s_rRNA2</text>
<text x="153" y="137.75" transform="rotate(408.47 153 137.75)" fill="#3d8cc0" stroke="#3d8cc0" stroke-width="0.28" text-anchor="middle" dominant-baseline="central">trnI-GAU</text>
<text x="146.5" y="142.35" transform="rotate(406.05 146.5 142.35)" fill="#3d8cc0" stroke="#3d8cc0" stroke-width="0.28" text-anchor="middle" dominant-baseline="central">trnA-UGC</text>
<text x="136" y="151.35" transform="rotate(401.85 136 151.35)" fill="#3d8cc0" stroke="#3d8cc0" stroke-width="0.28" text-anchor="middle" dominant-baseline="central">23s_rRNA2</text>
<text x="132.2" y="160.5" transform="rotate(398.96 132.2 160.5)" fill="#3d8cc0" stroke="#3d8cc0" stroke-width="0.28" text-anchor="middle" dominant-baseline="central">5s_rRNA2</text>
<text x="125.05" y="166.35" transform="rotate(396.2 125.05 166.35)" fill="#3d8cc0" stroke="#3d8cc0" stroke-width="0.28" text-anchor="middle" dominant-baseline="central">trnR-ACG</text>
<text x="118.55" y="195.6" transform="rotate(387.32 118.55 195.6)" fill="#3d8cc0" stroke="#3d8cc0" stroke-width="0.28" text-anchor="middle" dominant-baseline="central">ycf1</text>
<text x="107.8" y="215" transform="rotate(380.24 107.8 215)" fill="#3d8cc0" stroke="#3d8cc0" stroke-width="0.28" text-anchor="middle" dominant-baseline="central">rps15</text>
<text x="106.3" y="221.6" transform="rotate(378.09 106.3 221.6)" fill="#3d8cc0" stroke="#3d8cc0" stroke-width="0.28" text-anchor="middle" dominant-baseline="central">ndhH</text>
<text x="105.5" y="228.5" transform="rotate(375.9 105.5 228.5)" fill="#3d8cc0" stroke="#3d8cc0" stroke-width="0.28" text-anchor="middle" dominant-baseline="central">ndhA</text>
<text x="105" y="235.5" transform="rotate(373.67 105 235.5)" fill="#3d8cc0" stroke="#3d8cc0" stroke-width="0.28" text-anchor="middle" dominant-baseline="central">ndhI</text>
<text x="99.05" y="243" transform="rotate(370.91 99.05 243)" fill="#3d8cc0" stroke="#3d8cc0" stroke-width="0.28" text-anchor="middle" dominant-baseline="central">ndhG</text>
<text x="97.95" y="250.05" transform="rotate(368.65 97.95 250.05)" fill="#3d8cc0" stroke="#3d8cc0" stroke-width="0.28" text-anchor="middle" dominant-baseline="central">ndhE</text>
<text x="97.2" y="258.95" transform="rotate(365.81 97.2 258.95)" fill="#3d8cc0" stroke="#3d8cc0" stroke-width="0.28" text-anchor="middle" dominant-baseline="central">psaC</text>
<text x="96.45" y="266.35" transform="rotate(363.45 96.45 266.35)" fill="#3d8cc0" stroke="#3d8cc0" stroke-width="0.28" text-anchor="middle" dominant-baseline="central">ndhD</text>
<text x="97.95" y="302.7" transform="rotate(351.87 97.95 302.7)" fill="#3d8cc0" stroke="#3d8cc0" stroke-width="0.28" text-anchor="middle" dominant-baseline="central">ndhF</text>
<text x="95.3" y="323.65" transform="rotate(345.62 95.3 323.65)" fill="#3d8cc0" stroke="#3d8cc0" stroke-width="0.28" text-anchor="middle" dominant-baseline="central">trnN-GUU</text>
<text x="143.55" y="389.45" transform="rotate(319.83 143.55 389.45)" fill="#3d8cc0" stroke="#3d8cc0" stroke-width="0.28" text-anchor="middle" dominant-baseline="central">rps7</text>
<text x="148.55" y="403.15" transform="rotate(315.45 148.55 403.15)" fill="#3d8cc0" stroke="#3d8cc0" stroke-width="0.28" text-anchor="middle" dominant-baseline="central">ndhB</text>
<text x="152.15" y="417.5" transform="rotate(311.55 152.15 417.5)" fill="#3d8cc0" stroke="#3d8cc0" stroke-width="0.28" text-anchor="middle" dominant-baseline="central">trnL-CAA</text>
<text x="197" y="439.35" transform="rotate(296.12 197 439.35)" fill="#3d8cc0" stroke="#3d8cc0" stroke-width="0.28" text-anchor="middle" dominant-baseline="central">rpl23</text>
<text x="204.7" y="442.5" transform="rotate(293.48 204.7 442.5)" fill="#3d8cc0" stroke="#3d8cc0" stroke-width="0.28" text-anchor="middle" dominant-baseline="central">rps19</text>
<text x="212.5" y="445" transform="rotate(290.88 212.5 445)" fill="#3d8cc0" stroke="#3d8cc0" stroke-width="0.28" text-anchor="middle" dominant-baseline="central">rpl22</text>
<text x="220.85" y="445.75" transform="rotate(288.27 220.85 445.75)" fill="#3d8cc0" stroke="#3d8cc0" stroke-width="0.28" text-anchor="middle" dominant-baseline="central">rps3</text>
<text x="229.85" y="448.2" transform="rotate(285.26 229.85 448.2)" fill="#3d8cc0" stroke="#3d8cc0" stroke-width="0.28" text-anchor="middle" dominant-baseline="central">rps8</text>
<text x="238.2" y="451.55" transform="rotate(282.39 238.2 451.55)" fill="#3d8cc0" stroke="#3d8cc0" stroke-width="0.28" text-anchor="middle" dominant-baseline="central">rpl36</text>
<text x="246.6" y="452.85" transform="rotate(279.66 246.6 452.85)" fill="#3d8cc0" stroke="#3d8cc0" stroke-width="0.28" text-anchor="middle" dominant-baseline="central">rps11</text>
<text x="255.65" y="452.8" transform="rotate(276.77 255.65 452.8)" fill="#3d8cc0" stroke="#3d8cc0" stroke-width="0.28" text-anchor="middle" dominant-baseline="central">rpoA</text>
<text x="283.55" y="457.2" transform="rotate(87.76 283.55 457.2)" fill="#3d8cc0" stroke="#3d8cc0" stroke-width="0.28" text-anchor="middle" dominant-baseline="central">psbN</text>
<text x="306.85" y="454.2" transform="rotate(80.27 306.85 454.2)" fill="#3d8cc0" stroke="#3d8cc0" stroke-width="0.28" text-anchor="middle" dominant-baseline="central">clpP</text>
<text x="324" y="450.15" transform="rotate(74.64 324 450.15)" fill="#3d8cc0" stroke="#3d8cc0" stroke-width="0.28" text-anchor="middle" dominant-baseline="central">rpl20</text>
<text x="337.2" y="454.25" transform="rotate(71.08 337.2 454.25)" fill="#3d8cc0" stroke="#3d8cc0" stroke-width="0.28" text-anchor="middle" dominant-baseline="central">trnW-CCA</text>
<text x="342.5" y="445.3" transform="rotate(68.56 342.5 445.3)" fill="#3d8cc0" stroke="#3d8cc0" stroke-width="0.28" text-anchor="middle" dominant-baseline="central">psbE</text>
<text x="350.35" y="441.15" transform="rotate(65.75 350.35 441.15)" fill="#3d8cc0" stroke="#3d8cc0" stroke-width="0.28" text-anchor="middle" dominant-baseline="central">psbL</text>
<text x="357.55" y="436.85" transform="rotate(63.08 357.55 436.85)" fill="#3d8cc0" stroke="#3d8cc0" stroke-width="0.28" text-anchor="middle" dominant-baseline="central">psbJ</text>
<text x="364.75" y="432.2" transform="rotate(60.34 364.75 432.2)" fill="#3d8cc0" stroke="#3d8cc0" stroke-width="0.28" text-anchor="middle" dominant-baseline="central">psbF</text>
<text x="405.5" y="401.2" transform="rotate(43.87 405.5 401.2)" fill="#3d8cc0" stroke="#3d8cc0" stroke-width="0.28" text-anchor="middle" dominant-baseline="central">atpB</text>
<text x="405.55" y="391.8" transform="rotate(41.61 405.55 391.8)" fill="#3d8cc0" stroke="#3d8cc0" stroke-width="0.28" text-anchor="middle" dominant-baseline="central">atpE</text>
<text x="425" y="391.3" transform="rotate(37.54 425 391.3)" fill="#3d8cc0" stroke="#3d8cc0" stroke-width="0.28" text-anchor="middle" dominant-baseline="central">trnV-UAC</text>
<text x="425.6" y="381.8" transform="rotate(35.05 425.6 381.8)" fill="#3d8cc0" stroke="#3d8cc0" stroke-width="0.28" text-anchor="middle" dominant-baseline="central">ndhC</text>
<text x="428.85" y="375" transform="rotate(32.7 428.85 375)" fill="#3d8cc0" stroke="#3d8cc0" stroke-width="0.28" text-anchor="middle" dominant-baseline="central">ndhK</text>
<text x="432.3" y="367.9" transform="rotate(30.21 432.3 367.9)" fill="#3d8cc0" stroke="#3d8cc0" stroke-width="0.28" text-anchor="middle" dominant-baseline="central">ndhJ</text>
<text x="446.75" y="353.4" transform="rotate(24.11 446.75 353.4)" fill="#3d8cc0" stroke="#3d8cc0" stroke-width="0.28" text-anchor="middle" dominant-baseline="central">trnT-UGU</text>
<text x="443.4" y="342.85" transform="rotate(21.47 443.4 342.85)" fill="#3d8cc0" stroke="#3d8cc0" stroke-width="0.28" text-anchor="middle" dominant-baseline="central">rps4</text>
<text x="448.9" y="324.5" transform="rotate(15.34 448.9 324.5)" fill="#3d8cc0" stroke="#3d8cc0" stroke-width="0.28" text-anchor="middle" dominant-baseline="central">ycf3</text>
<text x="453.95" y="309.05" transform="rotate(10.18 453.95 309.05)" fill="#3d8cc0" stroke="#3d8cc0" stroke-width="0.28" text-anchor="middle" dominant-baseline="central">psaA</text>
<text x="455.05" y="296.75" transform="rotate(6.25 455.05 296.75)" fill="#3d8cc0" stroke="#3d8cc0" stroke-width="0.28" text-anchor="middle" dominant-baseline="central">psaB</text>
<text x="456.7" y="287.9" transform="rotate(3.4 456.7 287.9)" fill="#3d8cc0" stroke="#3d8cc0" stroke-width="0.28" text-anchor="middle" dominant-baseline="central">rps14</text>
<text x="464.5" y="279" transform="rotate(0.55 464.5 279)" fill="#3d8cc0" stroke="#3d8cc0" stroke-width="0.28" text-anchor="middle" dominant-baseline="central">trnfM-CAU</text>
<text x="463.4" y="268.95" transform="rotate(-2.53 463.4 268.95)" fill="#3d8cc0" stroke="#3d8cc0" stroke-width="0.28" text-anchor="middle" dominant-baseline="central">trnS-UGA</text>
<text x="460.65" y="242" transform="rotate(-10.82 460.65 242)" fill="#3d8cc0" stroke="#3d8cc0" stroke-width="0.28" text-anchor="middle" dominant-baseline="central">trnE-UUC</text>
<text x="459" y="234.5" transform="rotate(-13.17 459 234.5)" fill="#3d8cc0" stroke="#3d8cc0" stroke-width="0.28" text-anchor="middle" dominant-baseline="central">trnY-GUA</text>
<text x="457.9" y="228" transform="rotate(-15.17 457.9 228)" fill="#3d8cc0" stroke="#3d8cc0" stroke-width="0.28" text-anchor="middle" dominant-baseline="central">trnD-GUC</text>
<text x="448.95" y="223" transform="rotate(-17.45 448.95 223)" fill="#3d8cc0" stroke="#3d8cc0" stroke-width="0.28" text-anchor="middle" dominant-baseline="central">psbM</text>
<text x="433.85" y="190.15" transform="rotate(-28.95 433.85 190.15)" fill="#3d8cc0" stroke="#3d8cc0" stroke-width="0.28" text-anchor="middle" dominant-baseline="central">rpoB</text>
<text x="422.9" y="171.7" transform="rotate(-35.78 422.9 171.7)" fill="#3d8cc0" stroke="#3d8cc0" stroke-width="0.28" text-anchor="middle" dominant-baseline="central">rpoC1</text>
<text x="406.3" y="148.65" transform="rotate(-44.72 406.3 148.65)" fill="#3d8cc0" stroke="#3d8cc0" stroke-width="0.28" text-anchor="middle" dominant-baseline="central">rpoC2</text>
<text x="391.75" y="138.95" transform="rotate(-50.18 391.75 138.95)" fill="#3d8cc0" stroke="#3d8cc0" stroke-width="0.28" text-anchor="middle" dominant-baseline="central">rps2</text>
<text x="382.95" y="134.8" transform="rotate(-53.22 382.95 134.8)" fill="#3d8cc0" stroke="#3d8cc0" stroke-width="0.28" text-anchor="middle" dominant-baseline="central">atpI</text>
<text x="376.9" y="128.3" transform="rotate(-56.01 376.9 128.3)" fill="#3d8cc0" stroke="#3d8cc0" stroke-width="0.28" text-anchor="middle" dominant-baseline="central">atpH</text>
<text x="369.45" y="124.6" transform="rotate(-58.65 369.45 124.6)" fill="#3d8cc0" stroke="#3d8cc0" stroke-width="0.28" text-anchor="middle" dominant-baseline="central">atpF</text>
<text x="360.55" y="119.45" transform="rotate(-61.95 360.55 119.45)" fill="#3d8cc0" stroke="#3d8cc0" stroke-width="0.28" text-anchor="middle" dominant-baseline="central">atpA</text>
<text x="342.45" y="101.6" transform="rotate(-69.42 342.45 101.6)" fill="#3d8cc0" stroke="#3d8cc0" stroke-width="0.28" text-anchor="middle" dominant-baseline="central">trnS-GCU</text>
<text x="333.55" y="98.65" transform="rotate(-72.28 333.55 98.65)" fill="#3d8cc0" stroke="#3d8cc0" stroke-width="0.28" text-anchor="middle" dominant-baseline="central">trnQ-UUG</text>
<text x="318.95" y="101.7" transform="rotate(-76.4 318.95 101.7)" fill="#3d8cc0" stroke="#3d8cc0" stroke-width="0.28" text-anchor="middle" dominant-baseline="central">rps16</text>
<text x="304.45" y="92.1" transform="rotate(-81.41 304.45 92.1)" fill="#3d8cc0" stroke="#3d8cc0" stroke-width="0.28" text-anchor="middle" dominant-baseline="central">trnK-UUU</text>
<text x="296.45" y="98.35" transform="rotate(-83.64 296.45 98.35)" fill="#3d8cc0" stroke="#3d8cc0" stroke-width="0.28" text-anchor="middle" dominant-baseline="central">matK</text>
<text x="286.4" y="97.5" transform="rotate(-86.85 286.4 97.5)" fill="#3d8cc0" stroke="#3d8cc0" stroke-width="0.28" text-anchor="middle" dominant-baseline="central">psbA</text>
<text x="277.25" y="88.25" transform="rotate(-89.77 277.25 88.25)" fill="#3d8cc0" stroke="#3d8cc0" stroke-width="0.28" text-anchor="middle" dominant-baseline="central">trnH-GUG</text>
<text x="238" y="103.35" transform="rotate(437.51 238 103.35)" fill="#3d8cc0" stroke="#3d8cc0" stroke-width="0.28" text-anchor="middle" dominant-baseline="central">ycf2</text>
</g>
</g></defs>
<use href="#p"/>
<use href="#p" x="544.4" y="0.2"/>
<g fill="#1c2226" stroke="#1c2226"><path d="M277.75,233.34A43.88,43.88 0 0 1 279.84,233.45" fill="none" stroke-width="2.0" stroke-dasharray="1.8 0.8"/><circle cx="281.16" cy="233.57" r="1.1" stroke="none"/><path d="M283.81,233.93A43.88,43.88 0 0 1 285.18,234.19" fill="none" stroke-width="2.0" stroke-dasharray="1.8 0.8"/><path d="M285.07,234.17A43.88,43.88 0 0 1 293.74,236.85" fill="none" stroke-width="2.0" stroke-dasharray="1.8 0.8"/><path d="M291.05,235.8A43.88,43.88 0 0 1 297.12,238.47" fill="none" stroke-width="2.0" stroke-dasharray="1.8 0.8"/><circle cx="310.6" cy="249.59" r="1.1" stroke="none"/><circle cx="316.59" cy="259.35" r="1.1" stroke="none"/><circle cx="317.04" cy="260.41" r="1.1" stroke="none"/><line x1="318.36" y1="264.03" x2="320" y2="271.44" stroke-width="2.0" stroke-linecap="round"/><line x1="320.33" y1="275.02" x2="320.36" y2="278.62" stroke-width="2.0" stroke-linecap="round"/><circle cx="319.11" cy="287.67" r="1.1" stroke="none"/><line x1="318.05" y1="291.3" x2="315" y2="298.25" stroke-width="2.0" stroke-linecap="round"/><circle cx="312.88" cy="301.74" r="1.1" stroke="none"/><circle cx="302.66" cy="312.43" r="1.1" stroke="none"/><path d="M300.39,314A43.88,43.88 0 0 1 295.05,316.97" fill="none" stroke-width="2.0" stroke-dasharray="1.8 0.8"/><circle cx="294.21" cy="317.35" r="1.1" stroke="none"/><circle cx="292.58" cy="318.03" r="1.1" stroke="none"/><circle cx="286.15" cy="320.01" r="1.1" stroke="none"/><circle cx="282.91" cy="320.61" r="1.1" stroke="none"/><circle cx="276.65" cy="321.08" r="1.1" stroke="none"/><circle cx="274.2" cy="321.02" r="1.1" stroke="none"/><circle cx="267.15" cy="320.07" r="1.1" stroke="none"/><circle cx="265.51" cy="319.68" r="1.1" stroke="none"/><line x1="233.02" y1="283.13" x2="232.65" y2="275.54" stroke-width="2.0" stroke-linecap="round"/><circle cx="233.89" cy="266.73" r="1.1" stroke="none"/><circle cx="234.65" cy="264.01" r="1.1" stroke="none"/><circle cx="235.43" cy="261.76" r="1.1" stroke="none"/><line x1="235.54" y1="261.45" x2="238.87" y2="254.63" stroke-width="2.0" stroke-linecap="round"/><circle cx="238.73" cy="254.86" r="1.1" stroke="none"/><path d="M278.19,223.99A53.24,53.24 0 0 1 280.38,224.1" fill="none" stroke-width="2.0" stroke-dasharray="1.8 0.8"/><circle cx="282.16" cy="224.26" r="1.1" stroke="none"/><path d="M285.49,224.72A53.24,53.24 0 0 1 286.92,224.99" fill="none" stroke-width="2.0" stroke-dasharray="1.8 0.8"/><path d="M287.67,225.14A53.24,53.24 0 0 1 296.7,227.94" fill="none" stroke-width="2.0" stroke-dasharray="1.8 0.8"/><path d="M294.69,227.16A53.24,53.24 0 0 1 301.02,229.94" fill="none" stroke-width="2.0" stroke-dasharray="1.8 0.8"/><circle cx="317.88" cy="243.69" r="1.1" stroke="none"/><circle cx="325.14" cy="255.55" r="1.1" stroke="none"/><circle cx="325.69" cy="256.83" r="1.1" stroke="none"/><line x1="327.52" y1="262" x2="329.17" y2="269.41" stroke-width="2.0" stroke-linecap="round"/><line x1="329.69" y1="274.94" x2="329.72" y2="278.54" stroke-width="2.0" stroke-linecap="round"/><circle cx="328.2" cy="289.9" r="1.1" stroke="none"/><line x1="326.65" y1="295.07" x2="323.6" y2="302.02" stroke-width="2.0" stroke-linecap="round"/><circle cx="320.64" cy="306.97" r="1.1" stroke="none"/><circle cx="308.24" cy="319.94" r="1.1" stroke="none"/><path d="M305.05,322.14A53.24,53.24 0 0 1 299.48,325.23" fill="none" stroke-width="2.0" stroke-dasharray="1.8 0.8"/><circle cx="297.98" cy="325.91" r="1.1" stroke="none"/><circle cx="296.01" cy="326.74" r="1.1" stroke="none"/><circle cx="288.2" cy="329.14" r="1.1" stroke="none"/><circle cx="284.28" cy="329.87" r="1.1" stroke="none"/><circle cx="276.69" cy="330.44" r="1.1" stroke="none"/><circle cx="273.71" cy="330.37" r="1.1" stroke="none"/><circle cx="265.16" cy="329.22" r="1.1" stroke="none"/><circle cx="263.17" cy="328.74" r="1.1" stroke="none"/><line x1="223.64" y1="283.59" x2="223.27" y2="276" stroke-width="2.0" stroke-linecap="round"/><circle cx="224.8" cy="264.5" r="1.1" stroke="none"/><circle cx="225.72" cy="261.19" r="1.1" stroke="none"/><circle cx="226.66" cy="258.47" r="1.1" stroke="none"/><line x1="227.11" y1="257.33" x2="230.43" y2="250.51" stroke-width="2.0" stroke-linecap="round"/><circle cx="230.67" cy="250.1" r="1.1" stroke="none"/><path d="M278.64,214.64A62.6,62.6 0 0 1 280.91,214.76" fill="none" stroke-width="2.0" stroke-dasharray="1.8 0.8"/><circle cx="283.15" cy="214.95" r="1.1" stroke="none"/><path d="M287.16,215.51A62.6,62.6 0 0 1 288.65,215.79" fill="none" stroke-width="2.0" stroke-dasharray="1.8 0.8"/><path d="M290.25,216.13A62.6,62.6 0 0 1 299.65,219.04" fill="none" stroke-width="2.0" stroke-dasharray="1.8 0.8"/><path d="M298.33,218.53A62.6,62.6 0 0 1 304.91,221.42" fill="none" stroke-width="2.0" stroke-dasharray="1.8 0.8"/><circle cx="325.15" cy="237.8" r="1.1" stroke="none"/><circle cx="333.69" cy="251.74" r="1.1" stroke="none"/><circle cx="334.33" cy="253.24" r="1.1" stroke="none"/><line x1="336.68" y1="259.97" x2="338.33" y2="267.38" stroke-width="2.0" stroke-linecap="round"/><line x1="339.06" y1="274.85" x2="339.09" y2="278.45" stroke-width="2.0" stroke-linecap="round"/><circle cx="337.29" cy="292.13" r="1.1" stroke="none"/><line x1="335.24" y1="298.84" x2="332.19" y2="305.79" stroke-width="2.0" stroke-linecap="round"/><circle cx="328.4" cy="312.21" r="1.1" stroke="none"/><circle cx="313.82" cy="327.46" r="1.1" stroke="none"/><path d="M309.7,330.27A62.6,62.6 0 0 1 303.91,333.48" fill="none" stroke-width="2.0" stroke-dasharray="1.8 0.8"/><circle cx="301.76" cy="334.48" r="1.1" stroke="none"/><circle cx="299.44" cy="335.44" r="1.1" stroke="none"/><circle cx="290.26" cy="338.27" r="1.1" stroke="none"/><circle cx="285.64" cy="339.13" r="1.1" stroke="none"/><circle cx="276.72" cy="339.8" r="1.1" stroke="none"/><circle cx="273.22" cy="339.71" r="1.1" stroke="none"/><circle cx="263.16" cy="338.36" r="1.1" stroke="none"/><circle cx="260.83" cy="337.81" r="1.1" stroke="none"/><line x1="214.28" y1="284.05" x2="213.9" y2="276.46" stroke-width="2.0" stroke-linecap="round"/><circle cx="215.71" cy="262.27" r="1.1" stroke="none"/><circle cx="216.8" cy="258.38" r="1.1" stroke="none"/><circle cx="217.9" cy="255.17" r="1.1" stroke="none"/><line x1="218.67" y1="253.22" x2="222" y2="246.4" stroke-width="2.0" stroke-linecap="round"/><circle cx="222.62" cy="245.33" r="1.1" stroke="none"/><path d="M279.09,205.29A71.96,71.96 0 0 1 281.44,205.41" fill="none" stroke-width="2.0" stroke-dasharray="1.8 0.8"/><circle cx="284.15" cy="205.65" r="1.1" stroke="none"/><path d="M288.84,206.31A71.96,71.96 0 0 1 290.39,206.59" fill="none" stroke-width="2.0" stroke-dasharray="1.8 0.8"/><path d="M292.84,207.12A71.96,71.96 0 0 1 302.61,210.14" fill="none" stroke-width="2.0" stroke-dasharray="1.8 0.8"/><path d="M301.96,209.9A71.96,71.96 0 0 1 308.81,212.9" fill="none" stroke-width="2.0" stroke-dasharray="1.8 0.8"/><circle cx="332.42" cy="231.91" r="1.1" stroke="none"/><circle cx="342.24" cy="247.93" r="1.1" stroke="none"/><circle cx="342.98" cy="249.66" r="1.1" stroke="none"/><line x1="345.83" y1="257.94" x2="347.48" y2="265.35" stroke-width="2.0" stroke-linecap="round"/><line x1="348.42" y1="274.77" x2="348.45" y2="278.37" stroke-width="2.0" stroke-linecap="round"/><circle cx="346.38" cy="294.36" r="1.1" stroke="none"/><line x1="343.83" y1="302.61" x2="340.77" y2="309.56" stroke-width="2.0" stroke-linecap="round"/><circle cx="336.16" cy="317.44" r="1.1" stroke="none"/><circle cx="319.4" cy="334.97" r="1.1" stroke="none"/><path d="M314.36,338.4A71.96,71.96 0 0 1 308.34,341.73" fill="none" stroke-width="2.0" stroke-dasharray="1.8 0.8"/><circle cx="305.54" cy="343.04" r="1.1" stroke="none"/><circle cx="302.87" cy="344.15" r="1.1" stroke="none"/><circle cx="292.32" cy="347.4" r="1.1" stroke="none"/><circle cx="287.01" cy="348.39" r="1.1" stroke="none"/><circle cx="276.75" cy="349.16" r="1.1" stroke="none"/><circle cx="272.73" cy="349.06" r="1.1" stroke="none"/><circle cx="261.17" cy="347.51" r="1.1" stroke="none"/><circle cx="258.48" cy="346.87" r="1.1" stroke="none"/><line x1="204.91" y1="284.5" x2="204.54" y2="276.92" stroke-width="2.0" stroke-linecap="round"/><circle cx="206.62" cy="260.04" r="1.1" stroke="none"/><circle cx="207.87" cy="255.56" r="1.1" stroke="none"/><circle cx="209.14" cy="251.88" r="1.1" stroke="none"/><line x1="210.25" y1="249.11" x2="213.58" y2="242.28" stroke-width="2.0" stroke-linecap="round"/><circle cx="214.56" cy="240.57" r="1.1" stroke="none"/><path d="M279.53,195.94A81.32,81.32 0 0 1 281.98,196.06" fill="none" stroke-width="2.0" stroke-dasharray="1.8 0.8"/><circle cx="285.14" cy="196.34" r="1.1" stroke="none"/><path d="M290.52,197.1A81.32,81.32 0 0 1 292.12,197.39" fill="none" stroke-width="2.0" stroke-dasharray="1.8 0.8"/><path d="M295.43,198.11A81.32,81.32 0 0 1 305.56,201.25" fill="none" stroke-width="2.0" stroke-dasharray="1.8 0.8"/><path d="M305.6,201.26A81.32,81.32 0 0 1 312.7,204.38" fill="none" stroke-width="2.0" stroke-dasharray="1.8 0.8"/><circle cx="339.7" cy="226.02" r="1.1" stroke="none"/><circle cx="350.79" cy="244.12" r="1.1" stroke="none"/><circle cx="351.63" cy="246.08" r="1.1" stroke="none"/><line x1="354.98" y1="255.91" x2="356.63" y2="263.33" stroke-width="2.0" stroke-linecap="round"/><line x1="357.78" y1="274.69" x2="357.81" y2="278.29" stroke-width="2.0" stroke-linecap="round"/><circle cx="355.47" cy="296.6" r="1.1" stroke="none"/><line x1="352.41" y1="306.37" x2="349.35" y2="313.33" stroke-width="2.0" stroke-linecap="round"/><circle cx="343.92" cy="322.67" r="1.1" stroke="none"/><circle cx="324.99" cy="342.49" r="1.1" stroke="none"/><path d="M319.01,346.52A81.32,81.32 0 0 1 312.76,349.99" fill="none" stroke-width="2.0" stroke-dasharray="1.8 0.8"/><circle cx="309.32" cy="351.6" r="1.1" stroke="none"/><circle cx="306.3" cy="352.86" r="1.1" stroke="none"/><circle cx="294.38" cy="356.53" r="1.1" stroke="none"/><circle cx="288.38" cy="357.65" r="1.1" stroke="none"/><circle cx="276.78" cy="358.52" r="1.1" stroke="none"/><circle cx="272.24" cy="358.41" r="1.1" stroke="none"/><circle cx="259.18" cy="356.65" r="1.1" stroke="none"/><circle cx="256.14" cy="355.93" r="1.1" stroke="none"/><line x1="195.55" y1="284.96" x2="195.18" y2="277.37" stroke-width="2.0" stroke-linecap="round"/><circle cx="197.53" cy="257.8" r="1.1" stroke="none"/><circle cx="198.94" cy="252.75" r="1.1" stroke="none"/><circle cx="200.38" cy="248.59" r="1.1" stroke="none"/><line x1="201.82" y1="245" x2="205.16" y2="238.18" stroke-width="2.0" stroke-linecap="round"/><circle cx="206.5" cy="235.8" r="1.1" stroke="none"/><path d="M279.98,186.59A90.68,90.68 0 0 1 282.51,186.72" fill="none" stroke-width="2.0" stroke-dasharray="1.8 0.8"/><circle cx="286.14" cy="187.03" r="1.1" stroke="none"/><path d="M292.19,187.89A90.68,90.68 0 0 1 293.86,188.2" fill="none" stroke-width="2.0" stroke-dasharray="1.8 0.8"/><path d="M298.02,189.11A90.68,90.68 0 0 1 308.51,192.36" fill="none" stroke-width="2.0" stroke-dasharray="1.8 0.8"/><path d="M309.24,192.63A90.68,90.68 0 0 1 316.59,195.86" fill="none" stroke-width="2.0" stroke-dasharray="1.8 0.8"/><circle cx="346.97" cy="220.13" r="1.1" stroke="none"/><circle cx="359.34" cy="240.32" r="1.1" stroke="none"/><circle cx="360.28" cy="242.5" r="1.1" stroke="none"/><line x1="364.13" y1="253.88" x2="365.78" y2="261.3" stroke-width="2.0" stroke-linecap="round"/><line x1="367.14" y1="274.61" x2="367.17" y2="278.21" stroke-width="2.0" stroke-linecap="round"/><circle cx="364.56" cy="298.83" r="1.1" stroke="none"/><line x1="360.99" y1="310.14" x2="357.93" y2="317.1" stroke-width="2.0" stroke-linecap="round"/><circle cx="351.68" cy="327.91" r="1.1" stroke="none"/><circle cx="330.57" cy="350" r="1.1" stroke="none"/><path d="M323.66,354.65A90.68,90.68 0 0 1 317.19,358.24" fill="none" stroke-width="2.0" stroke-dasharray="1.8 0.8"/><circle cx="313.09" cy="360.17" r="1.1" stroke="none"/><circle cx="309.73" cy="361.57" r="1.1" stroke="none"/><circle cx="296.44" cy="365.66" r="1.1" stroke="none"/><circle cx="289.75" cy="366.91" r="1.1" stroke="none"/><circle cx="276.82" cy="367.88" r="1.1" stroke="none"/><circle cx="271.75" cy="367.76" r="1.1" stroke="none"/><circle cx="257.18" cy="365.8" r="1.1" stroke="none"/><circle cx="253.8" cy="364.99" r="1.1" stroke="none"/><line x1="186.19" y1="285.42" x2="185.82" y2="277.83" stroke-width="2.0" stroke-linecap="round"/><circle cx="188.44" cy="255.57" r="1.1" stroke="none"/><circle cx="190.02" cy="249.93" r="1.1" stroke="none"/><circle cx="191.62" cy="245.29" r="1.1" stroke="none"/><line x1="193.4" y1="240.9" x2="196.73" y2="234.07" stroke-width="2.0" stroke-linecap="round"/><circle cx="198.45" cy="231.04" r="1.1" stroke="none"/><path d="M280.42,177.24A100.04,100.04 0 0 1 283.05,177.37" fill="none" stroke-width="2.0" stroke-dasharray="1.8 0.8"/><circle cx="287.13" cy="177.73" r="1.1" stroke="none"/><path d="M293.87,178.68A100.04,100.04 0 0 1 295.59,179" fill="none" stroke-width="2.0" stroke-dasharray="1.8 0.8"/><path d="M300.6,180.11A100.04,100.04 0 0 1 311.47,183.47" fill="none" stroke-width="2.0" stroke-dasharray="1.8 0.8"/><path d="M312.87,184.01A100.04,100.04 0 0 1 320.48,187.35" fill="none" stroke-width="2.0" stroke-dasharray="1.8 0.8"/><circle cx="354.25" cy="214.24" r="1.1" stroke="none"/><circle cx="367.89" cy="236.51" r="1.1" stroke="none"/><circle cx="368.92" cy="238.92" r="1.1" stroke="none"/><line x1="373.28" y1="251.85" x2="374.92" y2="259.27" stroke-width="2.0" stroke-linecap="round"/><line x1="376.5" y1="274.53" x2="376.54" y2="278.13" stroke-width="2.0" stroke-linecap="round"/><circle cx="373.65" cy="301.06" r="1.1" stroke="none"/><line x1="369.56" y1="313.9" x2="366.51" y2="320.86" stroke-width="2.0" stroke-linecap="round"/><circle cx="359.44" cy="333.14" r="1.1" stroke="none"/><circle cx="336.15" cy="357.51" r="1.1" stroke="none"/><path d="M328.31,362.78A100.04,100.04 0 0 1 321.62,366.49" fill="none" stroke-width="2.0" stroke-dasharray="1.8 0.8"/><circle cx="316.87" cy="368.73" r="1.1" stroke="none"/><circle cx="313.16" cy="370.28" r="1.1" stroke="none"/><circle cx="298.49" cy="374.79" r="1.1" stroke="none"/><circle cx="291.11" cy="376.17" r="1.1" stroke="none"/><circle cx="276.85" cy="377.24" r="1.1" stroke="none"/><circle cx="271.26" cy="377.1" r="1.1" stroke="none"/><circle cx="255.19" cy="374.94" r="1.1" stroke="none"/><circle cx="251.45" cy="374.05" r="1.1" stroke="none"/><line x1="176.84" y1="285.88" x2="176.47" y2="278.29" stroke-width="2.0" stroke-linecap="round"/><circle cx="179.35" cy="253.34" r="1.1" stroke="none"/><circle cx="181.09" cy="247.12" r="1.1" stroke="none"/><circle cx="182.86" cy="242" r="1.1" stroke="none"/><line x1="184.98" y1="236.79" x2="188.31" y2="229.96" stroke-width="2.0" stroke-linecap="round"/><circle cx="190.39" cy="226.28" r="1.1" stroke="none"/><path d="M280.87,167.89A109.4,109.4 0 0 1 283.58,168.03" fill="none" stroke-width="2.0" stroke-dasharray="1.8 0.8"/><circle cx="288.13" cy="168.42" r="1.1" stroke="none"/><path d="M295.55,169.47A109.4,109.4 0 0 1 297.33,169.8" fill="none" stroke-width="2.0" stroke-dasharray="1.8 0.8"/><path d="M303.19,171.11A109.4,109.4 0 0 1 314.42,174.58" fill="none" stroke-width="2.0" stroke-dasharray="1.8 0.8"/><path d="M316.51,175.38A109.4,109.4 0 0 1 324.37,178.83" fill="none" stroke-width="2.0" stroke-dasharray="1.8 0.8"/><circle cx="361.52" cy="208.35" r="1.1" stroke="none"/><circle cx="376.44" cy="232.7" r="1.1" stroke="none"/><circle cx="377.57" cy="235.33" r="1.1" stroke="none"/><line x1="382.42" y1="249.83" x2="384.06" y2="257.24" stroke-width="2.0" stroke-linecap="round"/><line x1="385.87" y1="274.45" x2="385.9" y2="278.05" stroke-width="2.0" stroke-linecap="round"/><circle cx="382.74" cy="303.3" r="1.1" stroke="none"/><line x1="378.14" y1="317.67" x2="375.09" y2="324.63" stroke-width="2.0" stroke-linecap="round"/><circle cx="367.2" cy="338.38" r="1.1" stroke="none"/><circle cx="341.73" cy="365.03" r="1.1" stroke="none"/><path d="M332.96,370.9A109.4,109.4 0 0 1 326.04,374.74" fill="none" stroke-width="2.0" stroke-dasharray="1.8 0.8"/><circle cx="320.65" cy="377.3" r="1.1" stroke="none"/><circle cx="316.6" cy="378.99" r="1.1" stroke="none"/><circle cx="300.55" cy="383.92" r="1.1" stroke="none"/><circle cx="292.48" cy="385.43" r="1.1" stroke="none"/><circle cx="276.88" cy="386.6" r="1.1" stroke="none"/><circle cx="270.77" cy="386.45" r="1.1" stroke="none"/><circle cx="253.19" cy="384.09" r="1.1" stroke="none"/><circle cx="249.11" cy="383.12" r="1.1" stroke="none"/><line x1="167.48" y1="286.34" x2="167.11" y2="278.75" stroke-width="2.0" stroke-linecap="round"/><circle cx="170.26" cy="251.1" r="1.1" stroke="none"/><circle cx="172.16" cy="244.3" r="1.1" stroke="none"/><circle cx="174.1" cy="238.71" r="1.1" stroke="none"/><line x1="176.57" y1="232.69" x2="179.9" y2="225.86" stroke-width="2.0" stroke-linecap="round"/><circle cx="182.33" cy="221.51" r="1.1" stroke="none"/><path d="M281.32,158.54A118.76,118.76 0 0 1 284.11,158.68" fill="none" stroke-width="2.0" stroke-dasharray="1.8 0.8"/><circle cx="289.12" cy="159.11" r="1.1" stroke="none"/><path d="M297.22,160.26A118.76,118.76 0 0 1 299.06,160.6" fill="none" stroke-width="2.0" stroke-dasharray="1.8 0.8"/><path d="M305.77,162.1A118.76,118.76 0 0 1 317.37,165.69" fill="none" stroke-width="2.0" stroke-dasharray="1.8 0.8"/><path d="M320.14,166.75A118.76,118.76 0 0 1 328.26,170.31" fill="none" stroke-width="2.0" stroke-dasharray="1.8 0.8"/><circle cx="368.79" cy="202.46" r="1.1" stroke="none"/><circle cx="384.99" cy="228.9" r="1.1" stroke="none"/><circle cx="386.22" cy="231.75" r="1.1" stroke="none"/><line x1="391.56" y1="247.8" x2="393.21" y2="255.22" stroke-width="2.0" stroke-linecap="round"/><line x1="395.23" y1="274.36" x2="395.26" y2="277.96" stroke-width="2.0" stroke-linecap="round"/><circle cx="391.83" cy="305.53" r="1.1" stroke="none"/><line x1="386.72" y1="321.43" x2="383.66" y2="328.39" stroke-width="2.0" stroke-linecap="round"/><circle cx="374.96" cy="343.61" r="1.1" stroke="none"/><circle cx="347.31" cy="372.54" r="1.1" stroke="none"/><path d="M337.62,379.03A118.76,118.76 0 0 1 330.47,382.99" fill="none" stroke-width="2.0" stroke-dasharray="1.8 0.8"/><circle cx="324.43" cy="385.86" r="1.1" stroke="none"/><circle cx="320.03" cy="387.7" r="1.1" stroke="none"/><circle cx="302.61" cy="393.05" r="1.1" stroke="none"/><circle cx="293.85" cy="394.69" r="1.1" stroke="none"/><circle cx="276.91" cy="395.96" r="1.1" stroke="none"/><circle cx="270.28" cy="395.8" r="1.1" stroke="none"/><circle cx="251.2" cy="393.23" r="1.1" stroke="none"/><circle cx="246.76" cy="392.18" r="1.1" stroke="none"/><line x1="158.13" y1="286.79" x2="157.76" y2="279.2" stroke-width="2.0" stroke-linecap="round"/><circle cx="161.17" cy="248.87" r="1.1" stroke="none"/><circle cx="163.24" cy="241.49" r="1.1" stroke="none"/><circle cx="165.33" cy="235.42" r="1.1" stroke="none"/><line x1="168.15" y1="228.58" x2="171.48" y2="221.75" stroke-width="2.0" stroke-linecap="round"/><circle cx="174.28" cy="216.75" r="1.1" stroke="none"/><path d="M281.76,149.19A128.12,128.12 0 0 1 284.65,149.34" fill="none" stroke-width="2.0" stroke-dasharray="1.8 0.8"/><circle cx="290.11" cy="149.81" r="1.1" stroke="none"/><path d="M298.9,151.05A128.12,128.12 0 0 1 300.79,151.4" fill="none" stroke-width="2.0" stroke-dasharray="1.8 0.8"/><path d="M308.36,153.1A128.12,128.12 0 0 1 320.32,156.81" fill="none" stroke-width="2.0" stroke-dasharray="1.8 0.8"/><path d="M323.78,158.12A128.12,128.12 0 0 1 332.15,161.8" fill="none" stroke-width="2.0" stroke-dasharray="1.8 0.8"/><circle cx="376.07" cy="196.57" r="1.1" stroke="none"/><circle cx="393.54" cy="225.09" r="1.1" stroke="none"/><circle cx="394.87" cy="228.17" r="1.1" stroke="none"/><line x1="400.71" y1="245.77" x2="402.35" y2="253.19" stroke-width="2.0" stroke-linecap="round"/><line x1="404.59" y1="274.28" x2="404.62" y2="277.88" stroke-width="2.0" stroke-linecap="round"/><circle cx="400.92" cy="307.76" r="1.1" stroke="none"/><line x1="395.29" y1="325.2" x2="392.24" y2="332.15" stroke-width="2.0" stroke-linecap="round"/><circle cx="382.72" cy="348.84" r="1.1" stroke="none"/><circle cx="352.89" cy="380.06" r="1.1" stroke="none"/><path d="M342.27,387.15A128.12,128.12 0 0 1 334.89,391.24" fill="none" stroke-width="2.0" stroke-dasharray="1.8 0.8"/><circle cx="328.2" cy="394.42" r="1.1" stroke="none"/><circle cx="323.46" cy="396.41" r="1.1" stroke="none"/><circle cx="304.67" cy="402.19" r="1.1" stroke="none"/><circle cx="295.22" cy="403.95" r="1.1" stroke="none"/><circle cx="276.95" cy="405.32" r="1.1" stroke="none"/><circle cx="269.79" cy="405.14" r="1.1" stroke="none"/><circle cx="249.21" cy="402.38" r="1.1" stroke="none"/><circle cx="244.42" cy="401.24" r="1.1" stroke="none"/><line x1="148.77" y1="287.25" x2="148.4" y2="279.66" stroke-width="2.0" stroke-linecap="round"/><circle cx="152.08" cy="246.64" r="1.1" stroke="none"/><circle cx="154.31" cy="238.67" r="1.1" stroke="none"/><circle cx="156.57" cy="232.12" r="1.1" stroke="none"/><line x1="159.73" y1="224.48" x2="163.06" y2="217.65" stroke-width="2.0" stroke-linecap="round"/><circle cx="166.22" cy="211.98" r="1.1" stroke="none"/><path d="M282.21,139.84A137.48,137.48 0 0 1 285.18,139.99" fill="none" stroke-width="2.0" stroke-dasharray="1.8 0.8"/><circle cx="291.11" cy="140.5" r="1.1" stroke="none"/><path d="M300.58,141.84A137.48,137.48 0 0 1 302.53,142.21" fill="none" stroke-width="2.0" stroke-dasharray="1.8 0.8"/><path d="M310.95,144.11A137.48,137.48 0 0 1 323.27,147.92" fill="none" stroke-width="2.0" stroke-dasharray="1.8 0.8"/><path d="M327.41,149.49A137.48,137.48 0 0 1 336.04,153.28" fill="none" stroke-width="2.0" stroke-dasharray="1.8 0.8"/><circle cx="383.34" cy="190.68" r="1.1" stroke="none"/><circle cx="402.09" cy="221.28" r="1.1" stroke="none"/><circle cx="403.51" cy="224.59" r="1.1" stroke="none"/><line x1="409.85" y1="243.75" x2="411.49" y2="251.16" stroke-width="2.0" stroke-linecap="round"/><line x1="413.95" y1="274.2" x2="413.98" y2="277.8" stroke-width="2.0" stroke-linecap="round"/><circle cx="410.01" cy="309.99" r="1.1" stroke="none"/><line x1="403.86" y1="328.96" x2="400.81" y2="335.92" stroke-width="2.0" stroke-linecap="round"/><circle cx="390.48" cy="354.08" r="1.1" stroke="none"/><circle cx="358.47" cy="387.57" r="1.1" stroke="none"/><path d="M346.92,395.28A137.48,137.48 0 0 1 339.32,399.49" fill="none" stroke-width="2.0" stroke-dasharray="1.8 0.8"/><circle cx="331.98" cy="402.99" r="1.1" stroke="none"/><circle cx="326.89" cy="405.11" r="1.1" stroke="none"/><circle cx="306.72" cy="411.32" r="1.1" stroke="none"/><circle cx="296.58" cy="413.21" r="1.1" stroke="none"/><circle cx="276.98" cy="414.68" r="1.1" stroke="none"/><circle cx="269.3" cy="414.49" r="1.1" stroke="none"/><circle cx="247.21" cy="411.52" r="1.1" stroke="none"/><circle cx="242.08" cy="410.3" r="1.1" stroke="none"/><line x1="139.42" y1="287.71" x2="139.05" y2="280.12" stroke-width="2.0" stroke-linecap="round"/><circle cx="142.99" cy="244.41" r="1.1" stroke="none"/><circle cx="145.38" cy="235.86" r="1.1" stroke="none"/><circle cx="147.81" cy="228.83" r="1.1" stroke="none"/><line x1="151.32" y1="220.37" x2="154.65" y2="213.54" stroke-width="2.0" stroke-linecap="round"/><circle cx="158.17" cy="207.22" r="1.1" stroke="none"/><path d="M282.65,130.49A146.84,146.84 0 0 1 285.72,130.65" fill="none" stroke-width="2.0" stroke-dasharray="1.8 0.8"/><circle cx="292.1" cy="131.19" r="1.1" stroke="none"/><path d="M302.25,132.64A146.84,146.84 0 0 1 304.26,133.01" fill="none" stroke-width="2.0" stroke-dasharray="1.8 0.8"/><path d="M313.53,135.11A146.84,146.84 0 0 1 326.22,139.03" fill="none" stroke-width="2.0" stroke-dasharray="1.8 0.8"/><path d="M331.04,140.87A146.84,146.84 0 0 1 339.94,144.77" fill="none" stroke-width="2.0" stroke-dasharray="1.8 0.8"/><circle cx="390.62" cy="184.79" r="1.1" stroke="none"/><circle cx="410.65" cy="217.47" r="1.1" stroke="none"/><circle cx="412.16" cy="221.01" r="1.1" stroke="none"/><line x1="418.99" y1="241.72" x2="420.63" y2="249.14" stroke-width="2.0" stroke-linecap="round"/><line x1="423.31" y1="274.12" x2="423.34" y2="277.72" stroke-width="2.0" stroke-linecap="round"/><circle cx="419.1" cy="312.23" r="1.1" stroke="none"/><line x1="412.44" y1="332.72" x2="409.38" y2="339.68" stroke-width="2.0" stroke-linecap="round"/><circle cx="398.24" cy="359.31" r="1.1" stroke="none"/><circle cx="364.05" cy="395.09" r="1.1" stroke="none"/><path d="M351.57,403.4A146.84,146.84 0 0 1 343.75,407.74" fill="none" stroke-width="2.0" stroke-dasharray="1.8 0.8"/><circle cx="335.76" cy="411.55" r="1.1" stroke="none"/><circle cx="330.32" cy="413.82" r="1.1" stroke="none"/><circle cx="308.78" cy="420.45" r="1.1" stroke="none"/><circle cx="297.95" cy="422.46" r="1.1" stroke="none"/><circle cx="277.01" cy="424.04" r="1.1" stroke="none"/><circle cx="268.81" cy="423.84" r="1.1" stroke="none"/><circle cx="245.22" cy="420.67" r="1.1" stroke="none"/><circle cx="239.73" cy="419.36" r="1.1" stroke="none"/><line x1="130.07" y1="288.17" x2="129.7" y2="280.58" stroke-width="2.0" stroke-linecap="round"/><circle cx="133.9" cy="242.17" r="1.1" stroke="none"/><circle cx="136.46" cy="233.04" r="1.1" stroke="none"/><circle cx="139.05" cy="225.54" r="1.1" stroke="none"/><line x1="142.9" y1="216.27" x2="146.23" y2="209.44" stroke-width="2.0" stroke-linecap="round"/><circle cx="150.11" cy="202.45" r="1.1" stroke="none"/></g>
<g fill="#3a3a3a" stroke="#3a3a3a"><circle cx="823.58" cy="233.6" r="0.7" stroke="none"/><path d="M827.81,234.07A43.88,43.88 0 0 1 829.53,234.38" fill="none" stroke-width="1.0" stroke-dasharray="1.2 1.1"/><path d="M831.27,234.76A43.88,43.88 0 0 1 833.97,235.51" fill="none" stroke-width="1.0" stroke-dasharray="1.2 1.1"/><path d="M833.89,235.49A43.88,43.88 0 0 1 837.18,236.65" fill="none" stroke-width="1.0" stroke-dasharray="1.2 1.1"/><path d="M836.75,236.48A43.88,43.88 0 0 1 839.32,237.57" fill="none" stroke-width="1.0" stroke-dasharray="1.2 1.1"/><circle cx="843.43" cy="239.75" r="0.7" stroke="none"/><circle cx="856.13" cy="251.24" r="0.7" stroke="none"/><circle cx="860.8" cy="259.13" r="0.7" stroke="none"/><circle cx="861.17" cy="259.97" r="0.7" stroke="none"/><line x1="862.8" y1="264.38" x2="864.12" y2="269.82" stroke-width="1.0" stroke-linecap="round"/><line x1="864.66" y1="274.22" x2="864.71" y2="279.82" stroke-width="1.0" stroke-linecap="round"/><circle cx="863.34" cy="288.53" r="0.7" stroke="none"/><line x1="862.1" y1="292.51" x2="859.84" y2="297.63" stroke-width="1.0" stroke-linecap="round"/><circle cx="857.28" cy="301.94" r="0.7" stroke="none"/><path d="M849.61,310.58A43.88,43.88 0 0 1 847.99,311.92" fill="none" stroke-width="1.0" stroke-dasharray="1.2 1.1"/><circle cx="845.44" cy="313.78" r="0.7" stroke="none"/><path d="M843.96,314.73A43.88,43.88 0 0 1 841.7,316.04" fill="none" stroke-width="1.0" stroke-dasharray="1.2 1.1"/><circle cx="838.75" cy="317.49" r="0.7" stroke="none"/><circle cx="819.75" cy="321.26" r="0.7" stroke="none"/><circle cx="809.54" cy="319.78" r="0.7" stroke="none"/><line x1="777.32" y1="282.49" x2="777.02" y2="276.9" stroke-width="1.0" stroke-linecap="round"/><circle cx="777.22" cy="273.19" r="0.7" stroke="none"/><circle cx="778.23" cy="267.16" r="0.7" stroke="none"/><line x1="780.06" y1="261.36" x2="782.43" y2="256.29" stroke-width="1.0" stroke-linecap="round"/><circle cx="824.15" cy="224.26" r="0.7" stroke="none"/><path d="M829.43,224.85A53.24,53.24 0 0 1 831.22,225.17" fill="none" stroke-width="1.0" stroke-dasharray="1.2 1.1"/><path d="M833.72,225.73A53.24,53.24 0 0 1 836.53,226.5" fill="none" stroke-width="1.0" stroke-dasharray="1.2 1.1"/><path d="M836.95,226.64A53.24,53.24 0 0 1 840.38,227.85" fill="none" stroke-width="1.0" stroke-dasharray="1.2 1.1"/><path d="M840.35,227.84A53.24,53.24 0 0 1 843.04,228.98" fill="none" stroke-width="1.0" stroke-dasharray="1.2 1.1"/><circle cx="848.24" cy="231.72" r="0.7" stroke="none"/><circle cx="863.64" cy="245.66" r="0.7" stroke="none"/><circle cx="869.31" cy="255.24" r="0.7" stroke="none"/><circle cx="869.76" cy="256.26" r="0.7" stroke="none"/><line x1="871.92" y1="262.18" x2="873.23" y2="267.62" stroke-width="1.0" stroke-linecap="round"/><line x1="874.04" y1="274.14" x2="874.09" y2="279.73" stroke-width="1.0" stroke-linecap="round"/><circle cx="872.4" cy="290.91" r="0.7" stroke="none"/><line x1="870.67" y1="296.29" x2="868.42" y2="301.42" stroke-width="1.0" stroke-linecap="round"/><circle cx="865.04" cy="307.17" r="0.7" stroke="none"/><path d="M855.6,317.78A53.24,53.24 0 0 1 853.91,319.17" fill="none" stroke-width="1.0" stroke-dasharray="1.2 1.1"/><circle cx="850.67" cy="321.54" r="0.7" stroke="none"/><path d="M848.69,322.81A53.24,53.24 0 0 1 846.33,324.17" fill="none" stroke-width="1.0" stroke-dasharray="1.2 1.1"/><circle cx="842.55" cy="326.04" r="0.7" stroke="none"/><circle cx="819.51" cy="330.62" r="0.7" stroke="none"/><circle cx="807.12" cy="328.83" r="0.7" stroke="none"/><line x1="767.95" y1="282.98" x2="767.66" y2="277.39" stroke-width="1.0" stroke-linecap="round"/><circle cx="767.91" cy="272.3" r="0.7" stroke="none"/><circle cx="769.13" cy="264.97" r="0.7" stroke="none"/><line x1="771.57" y1="257.38" x2="773.94" y2="252.31" stroke-width="1.0" stroke-linecap="round"/><circle cx="824.72" cy="214.92" r="0.7" stroke="none"/><path d="M831.05,215.63A62.6,62.6 0 0 1 832.92,215.96" fill="none" stroke-width="1.0" stroke-dasharray="1.2 1.1"/><path d="M836.16,216.69A62.6,62.6 0 0 1 839.08,217.5" fill="none" stroke-width="1.0" stroke-dasharray="1.2 1.1"/><path d="M840,217.79A62.6,62.6 0 0 1 843.57,219.05" fill="none" stroke-width="1.0" stroke-dasharray="1.2 1.1"/><path d="M843.96,219.2A62.6,62.6 0 0 1 846.75,220.39" fill="none" stroke-width="1.0" stroke-dasharray="1.2 1.1"/><circle cx="853.05" cy="223.69" r="0.7" stroke="none"/><circle cx="871.16" cy="240.08" r="0.7" stroke="none"/><circle cx="877.82" cy="251.34" r="0.7" stroke="none"/><circle cx="878.35" cy="252.54" r="0.7" stroke="none"/><line x1="881.03" y1="259.97" x2="882.34" y2="265.42" stroke-width="1.0" stroke-linecap="round"/><line x1="883.41" y1="274.06" x2="883.46" y2="279.65" stroke-width="1.0" stroke-linecap="round"/><circle cx="881.45" cy="293.29" r="0.7" stroke="none"/><line x1="879.25" y1="300.08" x2="876.99" y2="305.2" stroke-width="1.0" stroke-linecap="round"/><circle cx="872.8" cy="312.41" r="0.7" stroke="none"/><path d="M861.59,324.97A62.6,62.6 0 0 1 859.84,326.42" fill="none" stroke-width="1.0" stroke-dasharray="1.2 1.1"/><circle cx="855.91" cy="329.3" r="0.7" stroke="none"/><path d="M853.42,330.89A62.6,62.6 0 0 1 850.96,332.31" fill="none" stroke-width="1.0" stroke-dasharray="1.2 1.1"/><circle cx="846.36" cy="334.59" r="0.7" stroke="none"/><circle cx="819.26" cy="339.98" r="0.7" stroke="none"/><circle cx="804.7" cy="337.87" r="0.7" stroke="none"/><line x1="758.59" y1="283.47" x2="758.3" y2="277.88" stroke-width="1.0" stroke-linecap="round"/><circle cx="758.59" cy="271.4" r="0.7" stroke="none"/><circle cx="760.03" cy="262.79" r="0.7" stroke="none"/><line x1="763.08" y1="253.41" x2="765.46" y2="248.34" stroke-width="1.0" stroke-linecap="round"/><circle cx="825.29" cy="205.57" r="0.7" stroke="none"/><path d="M832.67,206.41A71.96,71.96 0 0 1 834.61,206.76" fill="none" stroke-width="1.0" stroke-dasharray="1.2 1.1"/><path d="M838.61,207.65A71.96,71.96 0 0 1 841.64,208.49" fill="none" stroke-width="1.0" stroke-dasharray="1.2 1.1"/><path d="M843.06,208.94A71.96,71.96 0 0 1 846.77,210.25" fill="none" stroke-width="1.0" stroke-dasharray="1.2 1.1"/><path d="M847.56,210.56A71.96,71.96 0 0 1 850.46,211.79" fill="none" stroke-width="1.0" stroke-dasharray="1.2 1.1"/><circle cx="857.85" cy="215.65" r="0.7" stroke="none"/><circle cx="878.67" cy="234.5" r="0.7" stroke="none"/><circle cx="886.33" cy="247.44" r="0.7" stroke="none"/><circle cx="886.94" cy="248.82" r="0.7" stroke="none"/><line x1="890.13" y1="257.77" x2="891.45" y2="263.21" stroke-width="1.0" stroke-linecap="round"/><line x1="892.78" y1="273.97" x2="892.83" y2="279.57" stroke-width="1.0" stroke-linecap="round"/><circle cx="890.5" cy="295.66" r="0.7" stroke="none"/><line x1="887.82" y1="303.86" x2="885.56" y2="308.98" stroke-width="1.0" stroke-linecap="round"/><circle cx="880.56" cy="317.64" r="0.7" stroke="none"/><path d="M867.58,332.17A71.96,71.96 0 0 1 865.76,333.67" fill="none" stroke-width="1.0" stroke-dasharray="1.2 1.1"/><circle cx="861.14" cy="337.06" r="0.7" stroke="none"/><path d="M858.15,338.97A71.96,71.96 0 0 1 855.59,340.44" fill="none" stroke-width="1.0" stroke-dasharray="1.2 1.1"/><circle cx="850.17" cy="343.14" r="0.7" stroke="none"/><circle cx="819.02" cy="349.34" r="0.7" stroke="none"/><circle cx="802.28" cy="346.91" r="0.7" stroke="none"/><line x1="749.24" y1="283.96" x2="748.95" y2="278.37" stroke-width="1.0" stroke-linecap="round"/><circle cx="749.27" cy="270.5" r="0.7" stroke="none"/><circle cx="750.93" cy="260.6" r="0.7" stroke="none"/><line x1="754.6" y1="249.43" x2="756.97" y2="244.36" stroke-width="1.0" stroke-linecap="round"/><circle cx="825.86" cy="196.23" r="0.7" stroke="none"/><path d="M834.29,197.19A81.32,81.32 0 0 1 836.3,197.55" fill="none" stroke-width="1.0" stroke-dasharray="1.2 1.1"/><path d="M841.05,198.62A81.32,81.32 0 0 1 844.2,199.49" fill="none" stroke-width="1.0" stroke-dasharray="1.2 1.1"/><path d="M846.11,200.09A81.32,81.32 0 0 1 849.96,201.45" fill="none" stroke-width="1.0" stroke-dasharray="1.2 1.1"/><path d="M851.16,201.92A81.32,81.32 0 0 1 854.17,203.2" fill="none" stroke-width="1.0" stroke-dasharray="1.2 1.1"/><circle cx="862.66" cy="207.62" r="0.7" stroke="none"/><circle cx="886.19" cy="228.91" r="0.7" stroke="none"/><circle cx="894.84" cy="243.55" r="0.7" stroke="none"/><circle cx="895.53" cy="245.1" r="0.7" stroke="none"/><line x1="899.23" y1="255.57" x2="900.55" y2="261.01" stroke-width="1.0" stroke-linecap="round"/><line x1="902.14" y1="273.89" x2="902.19" y2="279.49" stroke-width="1.0" stroke-linecap="round"/><circle cx="899.56" cy="298.04" r="0.7" stroke="none"/><line x1="896.39" y1="307.64" x2="894.13" y2="312.76" stroke-width="1.0" stroke-linecap="round"/><circle cx="888.32" cy="322.87" r="0.7" stroke="none"/><path d="M873.56,339.36A81.32,81.32 0 0 1 871.68,340.92" fill="none" stroke-width="1.0" stroke-dasharray="1.2 1.1"/><circle cx="866.37" cy="344.82" r="0.7" stroke="none"/><path d="M862.88,347.05A81.32,81.32 0 0 1 860.23,348.58" fill="none" stroke-width="1.0" stroke-dasharray="1.2 1.1"/><circle cx="853.98" cy="351.69" r="0.7" stroke="none"/><circle cx="818.77" cy="358.69" r="0.7" stroke="none"/><circle cx="799.85" cy="355.95" r="0.7" stroke="none"/><line x1="739.89" y1="284.45" x2="739.59" y2="278.86" stroke-width="1.0" stroke-linecap="round"/><circle cx="739.95" cy="269.61" r="0.7" stroke="none"/><circle cx="741.83" cy="258.42" r="0.7" stroke="none"/><line x1="746.12" y1="245.46" x2="748.49" y2="240.39" stroke-width="1.0" stroke-linecap="round"/><circle cx="826.44" cy="186.89" r="0.7" stroke="none"/><path d="M835.92,187.97A90.68,90.68 0 0 1 838,188.35" fill="none" stroke-width="1.0" stroke-dasharray="1.2 1.1"/><path d="M843.5,189.58A90.68,90.68 0 0 1 846.76,190.49" fill="none" stroke-width="1.0" stroke-dasharray="1.2 1.1"/><path d="M849.17,191.24A90.68,90.68 0 0 1 853.15,192.65" fill="none" stroke-width="1.0" stroke-dasharray="1.2 1.1"/><path d="M854.77,193.28A90.68,90.68 0 0 1 857.88,194.6" fill="none" stroke-width="1.0" stroke-dasharray="1.2 1.1"/><circle cx="867.47" cy="199.59" r="0.7" stroke="none"/><circle cx="893.7" cy="223.33" r="0.7" stroke="none"/><circle cx="903.35" cy="239.65" r="0.7" stroke="none"/><circle cx="904.12" cy="241.39" r="0.7" stroke="none"/><line x1="908.34" y1="253.37" x2="909.65" y2="258.81" stroke-width="1.0" stroke-linecap="round"/><line x1="911.51" y1="273.81" x2="911.56" y2="279.41" stroke-width="1.0" stroke-linecap="round"/><circle cx="908.61" cy="300.41" r="0.7" stroke="none"/><line x1="904.96" y1="311.41" x2="902.7" y2="316.54" stroke-width="1.0" stroke-linecap="round"/><circle cx="896.08" cy="328.11" r="0.7" stroke="none"/><path d="M879.55,346.56A90.68,90.68 0 0 1 877.59,348.17" fill="none" stroke-width="1.0" stroke-dasharray="1.2 1.1"/><circle cx="871.61" cy="352.58" r="0.7" stroke="none"/><path d="M867.61,355.13A90.68,90.68 0 0 1 864.86,356.71" fill="none" stroke-width="1.0" stroke-dasharray="1.2 1.1"/><circle cx="857.78" cy="360.24" r="0.7" stroke="none"/><circle cx="818.53" cy="368.05" r="0.7" stroke="none"/><circle cx="797.43" cy="364.99" r="0.7" stroke="none"/><line x1="730.53" y1="284.94" x2="730.24" y2="279.35" stroke-width="1.0" stroke-linecap="round"/><circle cx="730.64" cy="268.71" r="0.7" stroke="none"/><circle cx="732.73" cy="256.23" r="0.7" stroke="none"/><line x1="737.63" y1="241.49" x2="740.01" y2="236.42" stroke-width="1.0" stroke-linecap="round"/><circle cx="827.01" cy="177.55" r="0.7" stroke="none"/><path d="M837.54,178.75A100.04,100.04 0 0 1 839.69,179.14" fill="none" stroke-width="1.0" stroke-dasharray="1.2 1.1"/><path d="M845.94,180.55A100.04,100.04 0 0 1 849.32,181.48" fill="none" stroke-width="1.0" stroke-dasharray="1.2 1.1"/><path d="M852.22,182.39A100.04,100.04 0 0 1 856.35,183.85" fill="none" stroke-width="1.0" stroke-dasharray="1.2 1.1"/><path d="M858.37,184.64A100.04,100.04 0 0 1 861.59,186.01" fill="none" stroke-width="1.0" stroke-dasharray="1.2 1.1"/><circle cx="872.27" cy="191.56" r="0.7" stroke="none"/><circle cx="901.21" cy="217.75" r="0.7" stroke="none"/><circle cx="911.86" cy="235.76" r="0.7" stroke="none"/><circle cx="912.71" cy="237.67" r="0.7" stroke="none"/><line x1="917.44" y1="251.16" x2="918.76" y2="256.61" stroke-width="1.0" stroke-linecap="round"/><line x1="920.87" y1="273.73" x2="920.92" y2="279.33" stroke-width="1.0" stroke-linecap="round"/><circle cx="917.67" cy="302.79" r="0.7" stroke="none"/><line x1="913.53" y1="315.19" x2="911.27" y2="320.32" stroke-width="1.0" stroke-linecap="round"/><circle cx="903.84" cy="333.34" r="0.7" stroke="none"/><path d="M885.54,353.75A100.04,100.04 0 0 1 883.51,355.42" fill="none" stroke-width="1.0" stroke-dasharray="1.2 1.1"/><circle cx="876.84" cy="360.34" r="0.7" stroke="none"/><path d="M872.33,363.2A100.04,100.04 0 0 1 869.49,364.85" fill="none" stroke-width="1.0" stroke-dasharray="1.2 1.1"/><circle cx="861.59" cy="368.79" r="0.7" stroke="none"/><circle cx="818.28" cy="377.41" r="0.7" stroke="none"/><circle cx="795.01" cy="374.03" r="0.7" stroke="none"/><line x1="721.18" y1="285.43" x2="720.89" y2="279.84" stroke-width="1.0" stroke-linecap="round"/><circle cx="721.32" cy="267.81" r="0.7" stroke="none"/><circle cx="723.62" cy="254.05" r="0.7" stroke="none"/><line x1="729.15" y1="237.51" x2="731.53" y2="232.44" stroke-width="1.0" stroke-linecap="round"/><circle cx="827.58" cy="168.2" r="0.7" stroke="none"/><path d="M839.16,169.53A109.4,109.4 0 0 1 841.38,169.94" fill="none" stroke-width="1.0" stroke-dasharray="1.2 1.1"/><path d="M848.39,171.51A109.4,109.4 0 0 1 851.88,172.48" fill="none" stroke-width="1.0" stroke-dasharray="1.2 1.1"/><path d="M855.28,173.54A109.4,109.4 0 0 1 859.54,175.05" fill="none" stroke-width="1.0" stroke-dasharray="1.2 1.1"/><path d="M861.97,176A109.4,109.4 0 0 1 865.31,177.42" fill="none" stroke-width="1.0" stroke-dasharray="1.2 1.1"/><circle cx="877.08" cy="183.53" r="0.7" stroke="none"/><circle cx="908.73" cy="212.17" r="0.7" stroke="none"/><circle cx="920.37" cy="231.86" r="0.7" stroke="none"/><circle cx="921.3" cy="233.95" r="0.7" stroke="none"/><line x1="926.54" y1="248.96" x2="927.86" y2="254.41" stroke-width="1.0" stroke-linecap="round"/><line x1="930.24" y1="273.65" x2="930.28" y2="279.25" stroke-width="1.0" stroke-linecap="round"/><circle cx="926.72" cy="305.16" r="0.7" stroke="none"/><line x1="922.09" y1="318.97" x2="919.83" y2="324.1" stroke-width="1.0" stroke-linecap="round"/><circle cx="911.6" cy="338.58" r="0.7" stroke="none"/><path d="M891.53,360.95A109.4,109.4 0 0 1 889.43,362.67" fill="none" stroke-width="1.0" stroke-dasharray="1.2 1.1"/><circle cx="882.08" cy="368.1" r="0.7" stroke="none"/><path d="M877.06,371.28A109.4,109.4 0 0 1 874.12,372.98" fill="none" stroke-width="1.0" stroke-dasharray="1.2 1.1"/><circle cx="865.4" cy="377.34" r="0.7" stroke="none"/><circle cx="818.04" cy="386.76" r="0.7" stroke="none"/><circle cx="792.59" cy="383.07" r="0.7" stroke="none"/><line x1="711.83" y1="285.92" x2="711.54" y2="280.33" stroke-width="1.0" stroke-linecap="round"/><circle cx="712" cy="266.91" r="0.7" stroke="none"/><circle cx="714.52" cy="251.86" r="0.7" stroke="none"/><line x1="720.68" y1="233.54" x2="723.05" y2="228.47" stroke-width="1.0" stroke-linecap="round"/><circle cx="828.15" cy="158.86" r="0.7" stroke="none"/><path d="M840.78,160.32A118.76,118.76 0 0 1 843.08,160.73" fill="none" stroke-width="1.0" stroke-dasharray="1.2 1.1"/><path d="M850.83,162.47A118.76,118.76 0 0 1 854.43,163.47" fill="none" stroke-width="1.0" stroke-dasharray="1.2 1.1"/><path d="M858.33,164.69A118.76,118.76 0 0 1 862.74,166.25" fill="none" stroke-width="1.0" stroke-dasharray="1.2 1.1"/><path d="M865.58,167.36A118.76,118.76 0 0 1 869.02,168.82" fill="none" stroke-width="1.0" stroke-dasharray="1.2 1.1"/><circle cx="881.89" cy="175.5" r="0.7" stroke="none"/><circle cx="916.24" cy="206.59" r="0.7" stroke="none"/><circle cx="928.88" cy="227.96" r="0.7" stroke="none"/><circle cx="929.89" cy="230.23" r="0.7" stroke="none"/><line x1="935.64" y1="246.76" x2="936.96" y2="252.2" stroke-width="1.0" stroke-linecap="round"/><line x1="939.6" y1="273.56" x2="939.65" y2="279.16" stroke-width="1.0" stroke-linecap="round"/><circle cx="935.77" cy="307.54" r="0.7" stroke="none"/><line x1="930.66" y1="322.75" x2="928.4" y2="327.87" stroke-width="1.0" stroke-linecap="round"/><circle cx="919.36" cy="343.81" r="0.7" stroke="none"/><path d="M897.52,368.14A118.76,118.76 0 0 1 895.35,369.92" fill="none" stroke-width="1.0" stroke-dasharray="1.2 1.1"/><circle cx="887.31" cy="375.86" r="0.7" stroke="none"/><path d="M881.79,379.36A118.76,118.76 0 0 1 878.76,381.11" fill="none" stroke-width="1.0" stroke-dasharray="1.2 1.1"/><circle cx="869.2" cy="385.89" r="0.7" stroke="none"/><circle cx="817.79" cy="396.12" r="0.7" stroke="none"/><circle cx="790.16" cy="392.11" r="0.7" stroke="none"/><line x1="702.48" y1="286.41" x2="702.19" y2="280.82" stroke-width="1.0" stroke-linecap="round"/><circle cx="702.69" cy="266.02" r="0.7" stroke="none"/><circle cx="705.42" cy="249.68" r="0.7" stroke="none"/><line x1="712.2" y1="229.57" x2="714.57" y2="224.5" stroke-width="1.0" stroke-linecap="round"/><circle cx="828.72" cy="149.52" r="0.7" stroke="none"/><path d="M842.4,151.1A128.12,128.12 0 0 1 844.77,151.52" fill="none" stroke-width="1.0" stroke-dasharray="1.2 1.1"/><path d="M853.28,153.44A128.12,128.12 0 0 1 856.99,154.47" fill="none" stroke-width="1.0" stroke-dasharray="1.2 1.1"/><path d="M861.39,155.85A128.12,128.12 0 0 1 865.93,157.45" fill="none" stroke-width="1.0" stroke-dasharray="1.2 1.1"/><path d="M869.18,158.73A128.12,128.12 0 0 1 872.73,160.23" fill="none" stroke-width="1.0" stroke-dasharray="1.2 1.1"/><circle cx="886.69" cy="167.46" r="0.7" stroke="none"/><circle cx="923.76" cy="201.01" r="0.7" stroke="none"/><circle cx="937.39" cy="224.07" r="0.7" stroke="none"/><circle cx="938.48" cy="226.52" r="0.7" stroke="none"/><line x1="944.74" y1="244.56" x2="946.06" y2="250" stroke-width="1.0" stroke-linecap="round"/><line x1="948.96" y1="273.48" x2="949.01" y2="279.08" stroke-width="1.0" stroke-linecap="round"/><circle cx="944.83" cy="309.91" r="0.7" stroke="none"/><line x1="939.23" y1="326.53" x2="936.97" y2="331.65" stroke-width="1.0" stroke-linecap="round"/><circle cx="927.12" cy="349.04" r="0.7" stroke="none"/><path d="M903.5,375.33A128.12,128.12 0 0 1 901.27,377.17" fill="none" stroke-width="1.0" stroke-dasharray="1.2 1.1"/><circle cx="892.54" cy="383.62" r="0.7" stroke="none"/><path d="M886.52,387.44A128.12,128.12 0 0 1 883.39,389.25" fill="none" stroke-width="1.0" stroke-dasharray="1.2 1.1"/><circle cx="873.01" cy="394.44" r="0.7" stroke="none"/><circle cx="817.55" cy="405.48" r="0.7" stroke="none"/><circle cx="787.74" cy="401.15" r="0.7" stroke="none"/><line x1="693.13" y1="286.9" x2="692.84" y2="281.31" stroke-width="1.0" stroke-linecap="round"/><circle cx="693.37" cy="265.12" r="0.7" stroke="none"/><circle cx="696.32" cy="247.49" r="0.7" stroke="none"/><line x1="703.72" y1="225.6" x2="706.09" y2="220.53" stroke-width="1.0" stroke-linecap="round"/><circle cx="829.29" cy="140.18" r="0.7" stroke="none"/><path d="M844.02,141.88A137.48,137.48 0 0 1 846.47,142.32" fill="none" stroke-width="1.0" stroke-dasharray="1.2 1.1"/><path d="M855.72,144.4A137.48,137.48 0 0 1 859.55,145.46" fill="none" stroke-width="1.0" stroke-dasharray="1.2 1.1"/><path d="M864.44,147A137.48,137.48 0 0 1 869.12,148.66" fill="none" stroke-width="1.0" stroke-dasharray="1.2 1.1"/><path d="M872.78,150.09A137.48,137.48 0 0 1 876.44,151.64" fill="none" stroke-width="1.0" stroke-dasharray="1.2 1.1"/><circle cx="891.5" cy="159.43" r="0.7" stroke="none"/><circle cx="931.27" cy="195.43" r="0.7" stroke="none"/><circle cx="945.9" cy="220.17" r="0.7" stroke="none"/><circle cx="947.07" cy="222.8" r="0.7" stroke="none"/><line x1="953.84" y1="242.36" x2="955.16" y2="247.8" stroke-width="1.0" stroke-linecap="round"/><line x1="958.32" y1="273.4" x2="958.37" y2="279" stroke-width="1.0" stroke-linecap="round"/><circle cx="953.88" cy="312.29" r="0.7" stroke="none"/><line x1="947.79" y1="330.31" x2="945.53" y2="335.43" stroke-width="1.0" stroke-linecap="round"/><circle cx="934.88" cy="354.28" r="0.7" stroke="none"/><path d="M909.49,382.53A137.48,137.48 0 0 1 907.19,384.42" fill="none" stroke-width="1.0" stroke-dasharray="1.2 1.1"/><circle cx="897.78" cy="391.38" r="0.7" stroke="none"/><path d="M891.25,395.52A137.48,137.48 0 0 1 888.02,397.38" fill="none" stroke-width="1.0" stroke-dasharray="1.2 1.1"/><circle cx="876.82" cy="402.99" r="0.7" stroke="none"/><circle cx="817.3" cy="414.83" r="0.7" stroke="none"/><circle cx="785.32" cy="410.2" r="0.7" stroke="none"/><line x1="683.78" y1="287.39" x2="683.49" y2="281.8" stroke-width="1.0" stroke-linecap="round"/><circle cx="684.05" cy="264.22" r="0.7" stroke="none"/><circle cx="687.22" cy="245.31" r="0.7" stroke="none"/><line x1="695.24" y1="221.63" x2="697.62" y2="216.56" stroke-width="1.0" stroke-linecap="round"/><circle cx="829.86" cy="130.83" r="0.7" stroke="none"/><path d="M845.64,132.66A146.84,146.84 0 0 1 848.16,133.11" fill="none" stroke-width="1.0" stroke-dasharray="1.2 1.1"/><path d="M858.17,135.37A146.84,146.84 0 0 1 862.11,136.46" fill="none" stroke-width="1.0" stroke-dasharray="1.2 1.1"/><path d="M867.5,138.15A146.84,146.84 0 0 1 872.32,139.86" fill="none" stroke-width="1.0" stroke-dasharray="1.2 1.1"/><path d="M876.39,141.45A146.84,146.84 0 0 1 880.15,143.05" fill="none" stroke-width="1.0" stroke-dasharray="1.2 1.1"/><circle cx="896.31" cy="151.4" r="0.7" stroke="none"/><circle cx="938.79" cy="189.85" r="0.7" stroke="none"/><circle cx="954.41" cy="216.27" r="0.7" stroke="none"/><circle cx="955.66" cy="219.08" r="0.7" stroke="none"/><line x1="962.94" y1="240.16" x2="964.26" y2="245.6" stroke-width="1.0" stroke-linecap="round"/><line x1="967.68" y1="273.32" x2="967.73" y2="278.92" stroke-width="1.0" stroke-linecap="round"/><circle cx="962.93" cy="314.66" r="0.7" stroke="none"/><line x1="956.36" y1="334.08" x2="954.1" y2="339.21" stroke-width="1.0" stroke-linecap="round"/><circle cx="942.64" cy="359.51" r="0.7" stroke="none"/><path d="M915.48,389.72A146.84,146.84 0 0 1 913.11,391.67" fill="none" stroke-width="1.0" stroke-dasharray="1.2 1.1"/><circle cx="903.01" cy="399.14" r="0.7" stroke="none"/><path d="M895.97,403.6A146.84,146.84 0 0 1 892.65,405.51" fill="none" stroke-width="1.0" stroke-dasharray="1.2 1.1"/><circle cx="880.63" cy="411.55" r="0.7" stroke="none"/><circle cx="817.06" cy="424.19" r="0.7" stroke="none"/><circle cx="782.9" cy="419.24" r="0.7" stroke="none"/><line x1="674.43" y1="287.88" x2="674.14" y2="282.29" stroke-width="1.0" stroke-linecap="round"/><circle cx="674.74" cy="263.33" r="0.7" stroke="none"/><circle cx="678.12" cy="243.12" r="0.7" stroke="none"/><line x1="686.76" y1="217.66" x2="689.14" y2="212.59" stroke-width="1.0" stroke-linecap="round"/></g>
<text x="15.5" y="35" font-family="Liberation Sans, sans-serif" font-weight="bold" font-size="23">a</text>
<text x="546.8" y="35" font-family="Liberation Sans, sans-serif" font-weight="bold" font-size="23">b</text>
</svg>
</body></html>
